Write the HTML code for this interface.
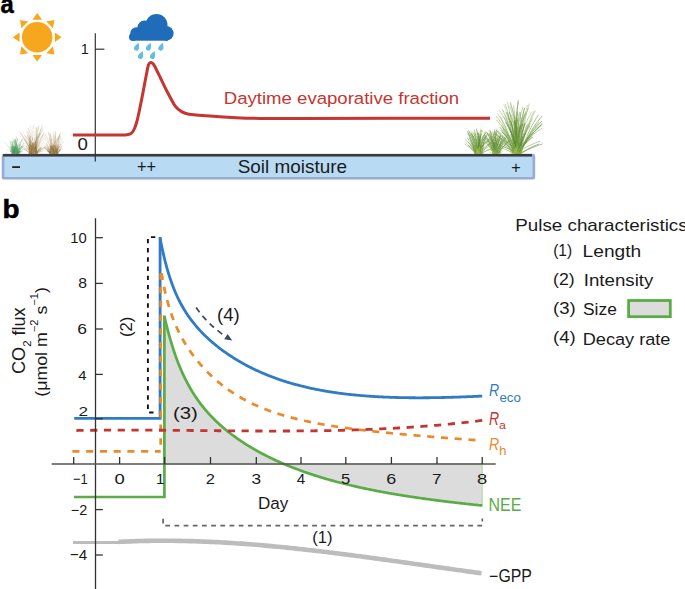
<!DOCTYPE html>
<html><head><meta charset="utf-8"><style>
html,body{margin:0;padding:0;background:#fff;}
body{width:685px;height:589px;overflow:hidden;}
svg{display:block;font-family:"Liberation Sans", sans-serif;}
</style></head><body>
<svg width="685" height="589" viewBox="0 0 685 589">
<text x="0.58" y="13.34" font-size="26.48" fill="#000" font-weight="bold" textLength="13.26" lengthAdjust="spacingAndGlyphs" stroke="#000" stroke-width="0.5">a</text>
<path d="M37.20,13.00 L42.00,19.70 L32.40,19.70 Z M54.38,20.12 L53.04,28.25 L46.25,21.46 Z M61.50,37.30 L54.80,42.10 L54.80,32.50 Z M54.38,54.48 L46.25,53.14 L53.04,46.35 Z M37.20,61.60 L32.40,54.90 L42.00,54.90 Z M20.02,54.48 L21.36,46.35 L28.15,53.14 Z M12.90,37.30 L19.60,32.50 L19.60,42.10 Z M20.02,20.12 L28.15,21.46 L21.36,28.25 Z" fill="#f6a71e"/>
<circle cx="37.20" cy="37.30" r="15.3" fill="#f6a71e"/>
<g fill="#1f6db8"><circle cx="133" cy="37" r="4"/><circle cx="136.5" cy="33.5" r="6.3"/><circle cx="144.5" cy="27.8" r="7.2"/><circle cx="156.5" cy="25" r="11"/><circle cx="166.3" cy="33.4" r="7.3"/><rect x="132" y="32" width="36" height="8.7"/></g>
<path d="M0,-5.9 C-0.9,-4.2 -2.5,-2 -2.5,0 A2.5,2.5 0 0 0 2.5,0 C2.5,-2 0.9,-4.2 0,-5.9 Z" fill="#62bde2" transform="translate(136.50,48.10) rotate(22)"/>
<path d="M0,-5.9 C-0.9,-4.2 -2.5,-2 -2.5,0 A2.5,2.5 0 0 0 2.5,0 C2.5,-2 0.9,-4.2 0,-5.9 Z" fill="#62bde2" transform="translate(148.40,48.10) rotate(22)"/>
<path d="M0,-5.9 C-0.9,-4.2 -2.5,-2 -2.5,0 A2.5,2.5 0 0 0 2.5,0 C2.5,-2 0.9,-4.2 0,-5.9 Z" fill="#62bde2" transform="translate(160.80,48.10) rotate(22)"/>
<path d="M0,-5.9 C-0.9,-4.2 -2.5,-2 -2.5,0 A2.5,2.5 0 0 0 2.5,0 C2.5,-2 0.9,-4.2 0,-5.9 Z" fill="#62bde2" transform="translate(140.50,56.50) rotate(22)"/>
<path d="M0,-5.9 C-0.9,-4.2 -2.5,-2 -2.5,0 A2.5,2.5 0 0 0 2.5,0 C2.5,-2 0.9,-4.2 0,-5.9 Z" fill="#62bde2" transform="translate(152.50,56.50) rotate(22)"/>
<rect x="3.05" y="155.15" width="530.8" height="23.1" rx="1" fill="#b8dbf3" stroke="#97abd6" stroke-width="2.7"/>
<line x1="3.1" y1="155.3" x2="532" y2="155.3" stroke="#3b3b3b" stroke-width="2.6"/>
<rect x="12.2" y="166.2" width="7.8" height="1.8" fill="#222"/>
<text x="136.92" y="172.99" font-size="18.16" fill="#1a1a1a" textLength="19.06" lengthAdjust="spacingAndGlyphs">++</text>
<text x="511.23" y="172.88" font-size="16.94" fill="#1a1a1a" textLength="9.46" lengthAdjust="spacingAndGlyphs">+</text>
<text x="237.65" y="173.00" font-size="17.93" fill="#1a1a1a" textLength="109.35" lengthAdjust="spacingAndGlyphs">Soil moisture</text>
<line x1="95.3" y1="33.3" x2="95.3" y2="161.6" stroke="#333333" stroke-width="1.2"/>
<line x1="95.3" y1="49.2" x2="104.4" y2="49.2" stroke="#333333" stroke-width="1.2"/>
<text x="80.71" y="53.90" font-size="14.55" fill="#1a1a1a">1</text>
<text x="77.45" y="150.10" font-size="15.77" fill="#1a1a1a" textLength="10.37" lengthAdjust="spacingAndGlyphs">0</text>
<path d="M72.90,135.00 C77.61,135.00 114.59,135.02 120.00,135.00 C125.41,134.98 125.85,134.98 127.00,134.80 C128.15,134.62 130.75,133.83 131.50,133.20 C132.25,132.57 133.95,129.72 134.50,128.50 C135.05,127.28 136.50,122.85 137.00,121.00 C137.50,119.15 138.95,112.60 139.50,110.00 C140.05,107.40 141.82,98.50 142.50,95.00 C143.18,91.50 145.71,78.00 146.30,75.00 C146.89,72.00 147.99,66.24 148.40,65.00 C148.81,63.76 149.98,62.77 150.40,62.60 C150.82,62.43 152.17,62.94 152.60,63.30 C153.03,63.66 153.91,64.73 154.70,66.20 C155.49,67.67 159.34,75.62 160.50,78.00 C161.66,80.38 164.85,87.22 166.30,90.00 C167.75,92.78 173.43,103.61 175.00,105.80 C176.57,107.99 180.60,111.06 182.00,111.90 C183.40,112.74 186.20,113.79 189.00,114.20 C191.80,114.61 205.26,115.65 210.00,116.00 C214.74,116.35 231.40,117.46 236.40,117.70 C241.40,117.94 253.64,118.33 260.00,118.40 C266.36,118.47 277.00,118.41 300.00,118.40 C323.00,118.39 471.00,118.31 490.00,118.30" fill="none" stroke="#c4362f" stroke-width="3" stroke-linejoin="round"/>
<text x="223.77" y="104.40" font-size="17.10" fill="#c4362f" textLength="235.40" lengthAdjust="spacingAndGlyphs">Daytime evaporative fraction</text>
<g fill="none" stroke-width="0.6" stroke-linecap="round" stroke-dasharray="1.6 0.7"><path d="M15.1,153.5 Q12.0,151.6 7.3,150.0" stroke="#5aa468" stroke-opacity="0.22"/><path d="M15.6,153.5 Q13.5,147.6 9.8,142.8" stroke="#5aa468" stroke-opacity="0.19"/><path d="M13.9,153.5 Q17.3,149.3 22.5,145.9" stroke="#3d8c48" stroke-opacity="0.39"/><path d="M14.7,153.5 Q16.7,148.6 20.1,144.5" stroke="#5aa468" stroke-opacity="0.40"/><path d="M18.2,153.5 Q19.3,145.6 22.3,139.2" stroke="#3d8c48" stroke-opacity="0.46"/><path d="M14.1,153.5 Q14.7,146.1 14.0,140.0" stroke="#5aa468" stroke-opacity="0.36"/><path d="M16.6,153.5 Q13.8,149.9 9.5,146.9" stroke="#2f7a3a" stroke-opacity="0.31"/><path d="M15.9,153.5 Q15.3,144.5 16.3,137.1" stroke="#3d8c48" stroke-opacity="0.43"/><path d="M14.0,153.5 Q14.3,149.7 13.9,146.7" stroke="#3d8c48" stroke-opacity="0.31"/><path d="M18.3,153.5 Q20.4,149.2 24.0,145.7" stroke="#3d8c48" stroke-opacity="0.49"/><path d="M11.5,153.5 Q11.7,147.0 13.1,141.6" stroke="#7ab985" stroke-opacity="0.32"/><path d="M16.0,153.5 Q18.4,152.1 21.8,150.9" stroke="#2f7a3a" stroke-opacity="0.28"/><path d="M14.0,153.5 Q16.6,146.8 21.3,141.3" stroke="#5aa468" stroke-opacity="0.25"/><path d="M12.3,153.5 Q12.3,150.0 11.7,147.1" stroke="#7ab985" stroke-opacity="0.22"/><path d="M16.0,153.5 Q14.5,146.5 11.4,140.8" stroke="#5aa468" stroke-opacity="0.32"/><path d="M14.6,153.5 Q14.5,147.3 15.5,142.2" stroke="#5aa468" stroke-opacity="0.15"/><path d="M18.4,153.5 Q20.6,151.3 24.0,149.4" stroke="#3d8c48" stroke-opacity="0.23"/><path d="M14.7,153.5 Q14.2,145.3 12.1,138.5" stroke="#3d8c48" stroke-opacity="0.17"/><path d="M12.7,153.5 Q12.0,146.5 9.8,140.8" stroke="#2f7a3a" stroke-opacity="0.30"/><path d="M12.1,153.5 Q11.9,148.6 10.8,144.7" stroke="#5aa468" stroke-opacity="0.16"/><path d="M14.4,153.5 Q13.5,146.8 11.0,141.4" stroke="#5aa468" stroke-opacity="0.50"/><path d="M13.0,153.5 Q12.1,149.5 10.4,146.3" stroke="#5aa468" stroke-opacity="0.48"/><path d="M13.5,153.5 Q14.6,145.3 17.5,138.6" stroke="#5aa468" stroke-opacity="0.42"/><path d="M14.6,153.5 Q17.5,150.0 22.1,147.2" stroke="#3d8c48" stroke-opacity="0.32"/><path d="M12.3,153.5 Q14.8,152.0 18.5,150.7" stroke="#7ab985" stroke-opacity="0.25"/><path d="M18.1,153.5 Q20.1,147.8 23.8,143.1" stroke="#2f7a3a" stroke-opacity="0.36"/><path d="M18.9,153.5 Q20.7,148.2 24.0,143.8" stroke="#3d8c48" stroke-opacity="0.26"/><path d="M18.8,153.5 Q18.9,148.7 19.9,144.7" stroke="#3d8c48" stroke-opacity="0.18"/><path d="M14.8,153.5 Q15.1,147.9 14.4,143.4" stroke="#5aa468" stroke-opacity="0.19"/><path d="M12.6,153.5 Q12.3,146.9 13.1,141.5" stroke="#2f7a3a" stroke-opacity="0.41"/><path d="M17.0,153.5 Q16.8,150.5 15.9,148.0" stroke="#3d8c48" stroke-opacity="0.34"/><path d="M14.4,153.5 Q13.8,148.1 12.1,143.8" stroke="#3d8c48" stroke-opacity="0.16"/><path d="M16.6,153.5 Q14.0,150.7 10.1,148.4" stroke="#3d8c48" stroke-opacity="0.18"/><path d="M15.9,153.5 Q16.0,145.6 17.7,139.2" stroke="#5aa468" stroke-opacity="0.47"/><path d="M18.8,153.5 Q17.0,146.0 13.4,139.9" stroke="#7ab985" stroke-opacity="0.53"/><path d="M11.7,153.5 Q13.8,148.4 17.4,144.1" stroke="#3d8c48" stroke-opacity="0.40"/><path d="M14.6,153.5 Q13.0,151.2 10.6,149.4" stroke="#3d8c48" stroke-opacity="0.55"/><path d="M18.5,153.5 Q17.6,146.1 15.0,140.1" stroke="#7ab985" stroke-opacity="0.52"/><path d="M17.1,153.5 Q14.8,148.3 11.0,144.0" stroke="#3d8c48" stroke-opacity="0.27"/><path d="M12.2,153.5 Q12.0,150.5 12.3,148.0" stroke="#3d8c48" stroke-opacity="0.35"/><path d="M16.4,153.5 Q17.1,151.3 18.4,149.4" stroke="#2f7a3a" stroke-opacity="0.21"/><path d="M16.4,153.5 Q16.0,146.9 14.2,141.4" stroke="#2f7a3a" stroke-opacity="0.41"/><path d="M15.0,153.5 Q16.7,147.0 19.9,141.6" stroke="#5aa468" stroke-opacity="0.40"/><path d="M17.9,153.5 Q17.2,145.9 14.9,139.6" stroke="#5aa468" stroke-opacity="0.50"/><path d="M14.6,153.5 Q13.4,150.1 11.2,147.3" stroke="#7ab985" stroke-opacity="0.29"/><path d="M18.7,153.5 Q18.7,150.2 18.1,147.6" stroke="#3d8c48" stroke-opacity="0.53"/><path d="M13.7,153.5 Q14.3,148.4 15.9,144.2" stroke="#5aa468" stroke-opacity="0.48"/><path d="M14.6,153.5 Q16.6,148.2 20.2,143.8" stroke="#2f7a3a" stroke-opacity="0.44"/><path d="M18.2,153.5 Q17.3,145.6 14.8,139.2" stroke="#2f7a3a" stroke-opacity="0.50"/><path d="M11.8,153.5 Q9.4,147.6 5.2,142.8" stroke="#2f7a3a" stroke-opacity="0.27"/><path d="M17.5,153.5 Q18.3,150.7 19.8,148.5" stroke="#3d8c48" stroke-opacity="0.68"/><path d="M13.9,153.5 Q14.1,149.5 13.6,146.3" stroke="#3d8c48" stroke-opacity="0.79"/><path d="M12.8,153.5 Q13.7,150.5 15.4,148.0" stroke="#2f7a3a" stroke-opacity="0.78"/><path d="M16.8,153.5 Q17.6,151.4 19.0,149.8" stroke="#7ab985" stroke-opacity="0.43"/><path d="M17.0,153.5 Q17.0,151.4 17.4,149.8" stroke="#5aa468" stroke-opacity="0.44"/><path d="M14.4,153.5 Q12.9,151.3 10.4,149.5" stroke="#5aa468" stroke-opacity="0.50"/><path d="M17.5,153.5 Q18.2,149.7 19.8,146.7" stroke="#7ab985" stroke-opacity="0.36"/><path d="M15.2,153.5 Q15.0,149.9 14.1,147.0" stroke="#3d8c48" stroke-opacity="0.49"/><path d="M16.0,153.5 Q17.7,151.1 20.5,149.1" stroke="#7ab985" stroke-opacity="0.46"/><path d="M18.9,153.5 Q18.1,151.7 16.8,150.3" stroke="#3d8c48" stroke-opacity="0.41"/><path d="M18.3,153.5 Q20.0,152.5 22.5,151.6" stroke="#2f7a3a" stroke-opacity="0.43"/><path d="M17.0,153.5 Q17.0,151.6 16.6,150.0" stroke="#3d8c48" stroke-opacity="0.32"/><path d="M14.4,153.5 Q13.3,150.2 11.2,147.4" stroke="#5aa468" stroke-opacity="0.70"/><path d="M12.4,153.5 Q12.4,149.5 13.0,146.3" stroke="#5aa468" stroke-opacity="0.57"/><path d="M16.8,153.5 Q18.3,150.6 20.9,148.2" stroke="#7ab985" stroke-opacity="0.77"/><path d="M15.4,153.5 Q14.7,149.8 13.0,146.7" stroke="#3d8c48" stroke-opacity="0.68"/><path d="M15.1,153.5 Q13.4,152.2 10.8,151.2" stroke="#5aa468" stroke-opacity="0.56"/><path d="M17.9,153.5 Q17.4,150.3 16.2,147.6" stroke="#2f7a3a" stroke-opacity="0.64"/><path d="M18.7,153.5 Q19.8,151.6 21.7,150.1" stroke="#5aa468" stroke-opacity="0.78"/><path d="M15.7,153.5 Q14.5,150.9 12.5,148.8" stroke="#5aa468" stroke-opacity="0.51"/><path d="M12.8,153.5 Q13.7,150.6 15.3,148.3" stroke="#3d8c48" stroke-opacity="0.56"/><path d="M14.8,153.5 Q15.1,149.4 14.7,146.1" stroke="#3d8c48" stroke-opacity="0.55"/><path d="M16.8,153.5 Q18.1,151.5 20.2,149.9" stroke="#7ab985" stroke-opacity="0.43"/><path d="M15.3,153.5 Q15.7,151.3 16.5,149.4" stroke="#7ab985" stroke-opacity="0.75"/><path d="M18.5,153.5 Q19.5,152.1 21.1,151.0" stroke="#7ab985" stroke-opacity="0.61"/><path d="M18.5,153.5 Q18.3,151.1 17.6,149.2" stroke="#3d8c48" stroke-opacity="0.32"/><path d="M13.1,153.5 Q13.8,150.2 15.4,147.4" stroke="#5aa468" stroke-opacity="0.61"/><path d="M12.7,153.5 Q12.7,149.7 12.0,146.5" stroke="#3d8c48" stroke-opacity="0.73"/><path d="M16.4,153.5 Q16.2,149.5 15.3,146.2" stroke="#3d8c48" stroke-opacity="0.49"/><path d="M14.9,153.5 Q13.3,151.9 10.9,150.6" stroke="#5aa468" stroke-opacity="0.57"/><path d="M18.0,153.5 Q17.7,151.0 16.7,148.9" stroke="#5aa468" stroke-opacity="0.42"/><path d="M17.2,153.5 Q17.5,149.4 17.1,146.1" stroke="#5aa468" stroke-opacity="0.46"/><path d="M14.2,153.5 Q14.9,149.6 16.4,146.5" stroke="#3d8c48" stroke-opacity="0.37"/><path d="M13.7,153.5 Q13.1,150.0 11.8,147.1" stroke="#2f7a3a" stroke-opacity="0.49"/><path d="M15.0,153.5 Q16.4,151.0 18.7,148.9" stroke="#5aa468" stroke-opacity="0.50"/><path d="M16.8,153.5 Q16.6,151.6 16.1,150.1" stroke="#5aa468" stroke-opacity="0.58"/><path d="M14.5,153.5 Q14.8,149.9 15.8,146.9" stroke="#2f7a3a" stroke-opacity="0.55"/><path d="M16.8,153.5 Q16.1,151.3 14.9,149.5" stroke="#3d8c48" stroke-opacity="0.54"/><path d="M12.2,153.5 Q12.2,149.4 11.4,146.0" stroke="#7ab985" stroke-opacity="0.37"/><path d="M13.3,153.5 Q12.1,152.2 10.2,151.2" stroke="#5aa468" stroke-opacity="0.80"/><path d="M18.5,153.5 Q19.2,149.7 20.8,146.7" stroke="#7ab985" stroke-opacity="0.34"/><path d="M12.7,153.5 Q12.9,150.3 12.6,147.6" stroke="#7ab985" stroke-opacity="0.56"/><path d="M15.0,153.5 Q15.0,149.7 14.3,146.6" stroke="#5aa468" stroke-opacity="0.39"/><path d="M15.2,153.5 Q15.3,149.6 14.7,146.4" stroke="#7ab985" stroke-opacity="0.76"/><path d="M16.2,153.5 Q17.6,152.0 19.7,150.9" stroke="#3d8c48" stroke-opacity="0.70"/><path d="M35.3,153.5 Q39.2,143.0 46.0,134.4" stroke="#b89a68" stroke-opacity="0.31"/><path d="M30.7,153.5 Q26.9,141.7 19.8,132.0" stroke="#6e5225" stroke-opacity="0.42"/><path d="M35.7,153.5 Q35.9,138.7 33.4,126.6" stroke="#b89a68" stroke-opacity="0.16"/><path d="M32.0,153.5 Q29.0,144.3 23.5,136.8" stroke="#a3824a" stroke-opacity="0.25"/><path d="M35.5,153.5 Q35.0,147.3 35.5,142.3" stroke="#6e5225" stroke-opacity="0.22"/><path d="M29.9,153.5 Q36.1,144.9 46.0,137.8" stroke="#8a6a30" stroke-opacity="0.20"/><path d="M37.5,153.5 Q32.8,143.9 24.8,136.0" stroke="#6e5225" stroke-opacity="0.19"/><path d="M32.7,153.5 Q31.9,141.0 33.3,130.8" stroke="#b89a68" stroke-opacity="0.33"/><path d="M35.3,153.5 Q36.9,139.8 41.5,128.6" stroke="#8a6a30" stroke-opacity="0.16"/><path d="M30.0,153.5 Q29.6,141.6 26.9,131.8" stroke="#a3824a" stroke-opacity="0.33"/><path d="M29.1,153.5 Q30.1,144.8 32.8,137.7" stroke="#6e5225" stroke-opacity="0.42"/><path d="M34.0,153.5 Q28.0,149.0 19.0,145.4" stroke="#8a6a30" stroke-opacity="0.33"/><path d="M36.3,153.5 Q36.2,147.3 37.2,142.3" stroke="#8a6a30" stroke-opacity="0.25"/><path d="M37.4,153.5 Q32.0,142.8 23.0,134.1" stroke="#8a6a30" stroke-opacity="0.26"/><path d="M33.5,153.5 Q37.2,147.5 43.2,142.6" stroke="#b89a68" stroke-opacity="0.32"/><path d="M32.3,153.5 Q31.3,141.3 27.9,131.4" stroke="#6e5225" stroke-opacity="0.34"/><path d="M35.7,153.5 Q37.6,150.4 40.6,147.9" stroke="#a3824a" stroke-opacity="0.31"/><path d="M34.7,153.5 Q33.2,149.0 30.5,145.3" stroke="#6e5225" stroke-opacity="0.37"/><path d="M29.5,153.5 Q30.0,137.3 33.7,124.1" stroke="#6e5225" stroke-opacity="0.14"/><path d="M37.1,153.5 Q35.2,138.2 30.1,125.7" stroke="#a3824a" stroke-opacity="0.13"/><path d="M29.9,153.5 Q28.9,138.2 30.6,125.6" stroke="#b89a68" stroke-opacity="0.17"/><path d="M37.6,153.5 Q38.2,148.3 39.8,144.0" stroke="#b89a68" stroke-opacity="0.27"/><path d="M30.8,153.5 Q32.5,149.2 35.4,145.7" stroke="#a3824a" stroke-opacity="0.16"/><path d="M33.0,153.5 Q31.9,144.9 28.9,137.8" stroke="#b89a68" stroke-opacity="0.24"/><path d="M35.7,153.5 Q33.5,139.8 28.2,128.5" stroke="#a3824a" stroke-opacity="0.43"/><path d="M35.6,153.5 Q35.9,137.9 39.0,125.2" stroke="#6e5225" stroke-opacity="0.21"/><path d="M34.5,153.5 Q36.2,140.2 40.8,129.4" stroke="#a3824a" stroke-opacity="0.33"/><path d="M35.8,153.5 Q37.5,138.0 42.4,125.3" stroke="#a3824a" stroke-opacity="0.41"/><path d="M29.4,153.5 Q29.3,147.7 30.3,143.0" stroke="#6e5225" stroke-opacity="0.21"/><path d="M29.2,153.5 Q29.1,144.0 30.6,136.2" stroke="#8a6a30" stroke-opacity="0.42"/><path d="M30.4,153.5 Q30.6,144.6 29.1,137.3" stroke="#6e5225" stroke-opacity="0.28"/><path d="M32.2,153.5 Q31.0,147.0 28.2,141.6" stroke="#8a6a30" stroke-opacity="0.38"/><path d="M33.0,153.5 Q36.3,140.6 42.8,130.0" stroke="#a3824a" stroke-opacity="0.27"/><path d="M35.7,153.5 Q35.9,145.8 34.7,139.5" stroke="#6e5225" stroke-opacity="0.22"/><path d="M35.8,153.5 Q37.8,139.5 42.9,128.0" stroke="#a3824a" stroke-opacity="0.26"/><path d="M32.3,153.5 Q34.5,149.2 38.2,145.7" stroke="#8a6a30" stroke-opacity="0.26"/><path d="M34.1,153.5 Q38.4,142.1 46.0,132.8" stroke="#b89a68" stroke-opacity="0.22"/><path d="M36.0,153.5 Q38.8,141.7 44.6,132.0" stroke="#8a6a30" stroke-opacity="0.35"/><path d="M33.5,153.5 Q33.8,139.1 36.9,127.3" stroke="#6e5225" stroke-opacity="0.21"/><path d="M30.3,153.5 Q26.9,145.8 21.0,139.4" stroke="#8a6a30" stroke-opacity="0.23"/><path d="M33.0,153.5 Q36.6,143.2 43.2,134.8" stroke="#6e5225" stroke-opacity="0.26"/><path d="M36.2,153.5 Q35.4,142.3 36.5,133.1" stroke="#a3824a" stroke-opacity="0.15"/><path d="M36.5,153.5 Q37.8,149.7 40.1,146.7" stroke="#b89a68" stroke-opacity="0.31"/><path d="M36.2,153.5 Q36.2,142.7 38.2,133.8" stroke="#a3824a" stroke-opacity="0.40"/><path d="M34.1,153.5 Q32.4,146.6 29.1,140.9" stroke="#b89a68" stroke-opacity="0.41"/><path d="M31.5,153.5 Q34.3,142.8 39.8,134.1" stroke="#6e5225" stroke-opacity="0.44"/><path d="M34.9,153.5 Q35.3,138.8 38.6,126.8" stroke="#8a6a30" stroke-opacity="0.31"/><path d="M31.7,153.5 Q29.4,145.8 24.9,139.5" stroke="#8a6a30" stroke-opacity="0.42"/><path d="M29.8,153.5 Q27.8,141.3 23.0,131.3" stroke="#a3824a" stroke-opacity="0.15"/><path d="M36.3,153.5 Q33.4,143.6 27.8,135.5" stroke="#6e5225" stroke-opacity="0.37"/><path d="M32.5,153.5 Q33.8,144.0 37.2,136.3" stroke="#6e5225" stroke-opacity="0.34"/><path d="M33.4,153.5 Q28.4,143.9 20.0,136.0" stroke="#8a6a30" stroke-opacity="0.26"/><path d="M36.4,153.5 Q37.5,139.4 36.2,127.9" stroke="#8a6a30" stroke-opacity="0.39"/><path d="M36.5,153.5 Q40.3,149.8 46.0,146.8" stroke="#6e5225" stroke-opacity="0.35"/><path d="M36.2,153.5 Q32.8,145.0 26.8,138.0" stroke="#b89a68" stroke-opacity="0.42"/><path d="M31.2,153.5 Q31.9,148.3 33.7,144.0" stroke="#6e5225" stroke-opacity="0.34"/><path d="M32.8,153.5 Q34.2,150.2 36.6,147.6" stroke="#8a6a30" stroke-opacity="0.46"/><path d="M35.6,153.5 Q35.1,147.1 35.7,141.9" stroke="#8a6a30" stroke-opacity="0.59"/><path d="M29.2,153.5 Q29.0,148.4 29.7,144.2" stroke="#8a6a30" stroke-opacity="0.39"/><path d="M30.8,153.5 Q29.1,149.4 26.2,146.1" stroke="#b89a68" stroke-opacity="0.52"/><path d="M31.0,153.5 Q31.9,150.1 33.6,147.3" stroke="#6e5225" stroke-opacity="0.43"/><path d="M37.2,153.5 Q39.9,150.1 44.1,147.2" stroke="#b89a68" stroke-opacity="0.63"/><path d="M33.4,153.5 Q32.7,149.1 31.1,145.5" stroke="#6e5225" stroke-opacity="0.55"/><path d="M35.9,153.5 Q38.1,151.3 41.5,149.6" stroke="#a3824a" stroke-opacity="0.68"/><path d="M36.2,153.5 Q38.0,150.4 40.8,147.8" stroke="#6e5225" stroke-opacity="0.60"/><path d="M29.5,153.5 Q31.9,149.7 35.8,146.6" stroke="#6e5225" stroke-opacity="0.45"/><path d="M31.2,153.5 Q29.6,150.0 26.9,147.1" stroke="#a3824a" stroke-opacity="0.44"/><path d="M35.9,153.5 Q38.4,150.1 42.3,147.2" stroke="#a3824a" stroke-opacity="0.54"/><path d="M37.9,153.5 Q40.0,152.0 43.1,150.8" stroke="#8a6a30" stroke-opacity="0.32"/><path d="M35.9,153.5 Q38.8,151.2 43.2,149.3" stroke="#a3824a" stroke-opacity="0.29"/><path d="M31.4,153.5 Q31.5,147.8 30.4,143.1" stroke="#8a6a30" stroke-opacity="0.65"/><path d="M35.2,153.5 Q37.4,150.5 40.9,148.1" stroke="#6e5225" stroke-opacity="0.26"/><path d="M30.7,153.5 Q31.2,149.8 32.6,146.8" stroke="#8a6a30" stroke-opacity="0.60"/><path d="M33.0,153.5 Q34.3,149.4 36.8,146.0" stroke="#6e5225" stroke-opacity="0.39"/><path d="M32.6,153.5 Q32.5,148.2 33.4,143.9" stroke="#b89a68" stroke-opacity="0.55"/><path d="M29.6,153.5 Q29.4,147.8 30.1,143.2" stroke="#b89a68" stroke-opacity="0.59"/><path d="M36.1,153.5 Q36.5,150.1 37.7,147.3" stroke="#b89a68" stroke-opacity="0.26"/><path d="M32.4,153.5 Q32.2,148.3 31.0,144.1" stroke="#b89a68" stroke-opacity="0.60"/><path d="M36.7,153.5 Q36.2,147.7 34.6,143.0" stroke="#a3824a" stroke-opacity="0.66"/><path d="M30.4,153.5 Q27.7,151.0 23.6,148.9" stroke="#6e5225" stroke-opacity="0.59"/><path d="M34.0,153.5 Q32.5,151.6 30.2,150.0" stroke="#a3824a" stroke-opacity="0.34"/><path d="M35.6,153.5 Q34.2,149.2 31.6,145.7" stroke="#6e5225" stroke-opacity="0.45"/><path d="M32.4,153.5 Q34.1,152.0 36.6,150.8" stroke="#8a6a30" stroke-opacity="0.31"/><path d="M34.7,153.5 Q34.9,150.5 35.8,148.1" stroke="#b89a68" stroke-opacity="0.52"/><path d="M29.8,153.5 Q29.8,149.4 30.6,146.0" stroke="#a3824a" stroke-opacity="0.69"/><path d="M32.9,153.5 Q32.6,147.4 33.2,142.4" stroke="#a3824a" stroke-opacity="0.54"/><path d="M35.9,153.5 Q34.9,148.2 32.5,143.8" stroke="#b89a68" stroke-opacity="0.47"/><path d="M37.3,153.5 Q36.1,148.8 33.8,145.0" stroke="#6e5225" stroke-opacity="0.69"/><path d="M36.1,153.5 Q34.8,148.9 32.2,145.1" stroke="#8a6a30" stroke-opacity="0.37"/><path d="M30.7,153.5 Q29.8,148.8 27.8,144.9" stroke="#a3824a" stroke-opacity="0.48"/><path d="M36.1,153.5 Q38.2,149.3 41.7,145.9" stroke="#a3824a" stroke-opacity="0.36"/><path d="M33.8,153.5 Q33.9,148.1 32.9,143.6" stroke="#a3824a" stroke-opacity="0.51"/><path d="M30.8,153.5 Q31.3,147.5 33.1,142.7" stroke="#a3824a" stroke-opacity="0.51"/><path d="M29.2,153.5 Q27.9,151.0 25.6,149.0" stroke="#b89a68" stroke-opacity="0.51"/><path d="M35.3,153.5 Q33.7,150.4 31.0,147.8" stroke="#6e5225" stroke-opacity="0.37"/><path d="M36.9,153.5 Q35.6,150.5 33.2,148.0" stroke="#8a6a30" stroke-opacity="0.50"/><path d="M31.4,153.5 Q31.5,147.4 32.9,142.4" stroke="#6e5225" stroke-opacity="0.52"/><path d="M30.1,153.5 Q29.7,147.2 30.3,142.0" stroke="#a3824a" stroke-opacity="0.59"/><path d="M32.3,153.5 Q31.3,150.3 29.6,147.6" stroke="#8a6a30" stroke-opacity="0.45"/><path d="M32.6,153.5 Q33.1,147.3 34.8,142.3" stroke="#a3824a" stroke-opacity="0.39"/><path d="M35.0,153.5 Q32.3,151.3 28.1,149.5" stroke="#b89a68" stroke-opacity="0.53"/><path d="M34.8,153.5 Q34.7,148.7 35.5,144.7" stroke="#8a6a30" stroke-opacity="0.31"/><path d="M32.5,153.5 Q31.5,148.8 29.4,144.9" stroke="#a3824a" stroke-opacity="0.40"/><path d="M30.2,153.5 Q30.1,150.3 29.5,147.7" stroke="#8a6a30" stroke-opacity="0.57"/><path d="M36.1,153.5 Q38.4,152.1 41.8,150.9" stroke="#b89a68" stroke-opacity="0.52"/><path d="M53.7,153.5 Q50.6,145.7 45.0,139.3" stroke="#b89a68" stroke-opacity="0.37"/><path d="M53.9,153.5 Q56.0,142.5 60.6,133.5" stroke="#b89a68" stroke-opacity="0.39"/><path d="M50.6,153.5 Q53.2,148.2 57.5,143.9" stroke="#b89a68" stroke-opacity="0.26"/><path d="M49.7,153.5 Q52.9,144.1 58.8,136.5" stroke="#6e5225" stroke-opacity="0.36"/><path d="M57.6,153.5 Q57.7,142.8 59.8,134.1" stroke="#6e5225" stroke-opacity="0.41"/><path d="M57.4,153.5 Q55.8,147.9 52.7,143.4" stroke="#b89a68" stroke-opacity="0.20"/><path d="M57.4,153.5 Q59.2,150.1 62.2,147.4" stroke="#a3824a" stroke-opacity="0.30"/><path d="M55.4,153.5 Q56.2,141.3 55.0,131.3" stroke="#8a6a30" stroke-opacity="0.45"/><path d="M56.1,153.5 Q58.1,145.6 62.2,139.1" stroke="#a3824a" stroke-opacity="0.19"/><path d="M56.2,153.5 Q55.5,144.4 52.9,137.0" stroke="#8a6a30" stroke-opacity="0.15"/><path d="M56.6,153.5 Q59.3,146.6 64.0,140.9" stroke="#8a6a30" stroke-opacity="0.22"/><path d="M56.1,153.5 Q57.0,150.7 58.8,148.4" stroke="#a3824a" stroke-opacity="0.14"/><path d="M57.6,153.5 Q59.0,146.7 62.2,141.1" stroke="#a3824a" stroke-opacity="0.14"/><path d="M49.8,153.5 Q47.6,149.1 44.0,145.5" stroke="#6e5225" stroke-opacity="0.23"/><path d="M50.8,153.5 Q51.5,141.7 50.1,132.0" stroke="#a3824a" stroke-opacity="0.22"/><path d="M57.8,153.5 Q54.1,144.9 47.6,137.9" stroke="#a3824a" stroke-opacity="0.22"/><path d="M57.2,153.5 Q58.2,144.1 61.2,136.4" stroke="#a3824a" stroke-opacity="0.30"/><path d="M51.6,153.5 Q51.0,141.8 48.1,132.3" stroke="#8a6a30" stroke-opacity="0.33"/><path d="M52.3,153.5 Q53.7,147.5 56.7,142.6" stroke="#b89a68" stroke-opacity="0.36"/><path d="M50.7,153.5 Q48.0,151.8 44.0,150.5" stroke="#b89a68" stroke-opacity="0.26"/><path d="M51.0,153.5 Q51.9,142.9 51.0,134.2" stroke="#6e5225" stroke-opacity="0.18"/><path d="M51.6,153.5 Q50.1,144.2 46.5,136.6" stroke="#6e5225" stroke-opacity="0.24"/><path d="M55.5,153.5 Q57.4,148.4 60.7,144.3" stroke="#6e5225" stroke-opacity="0.42"/><path d="M51.1,153.5 Q49.2,148.6 45.7,144.5" stroke="#a3824a" stroke-opacity="0.33"/><path d="M50.3,153.5 Q51.7,145.2 55.0,138.3" stroke="#8a6a30" stroke-opacity="0.12"/><path d="M54.8,153.5 Q55.5,144.0 54.6,136.3" stroke="#b89a68" stroke-opacity="0.39"/><path d="M50.3,153.5 Q49.0,147.6 46.4,142.8" stroke="#6e5225" stroke-opacity="0.36"/><path d="M49.8,153.5 Q53.0,145.0 58.7,138.0" stroke="#a3824a" stroke-opacity="0.45"/><path d="M49.8,153.5 Q47.5,151.2 44.0,149.2" stroke="#b89a68" stroke-opacity="0.14"/><path d="M50.1,153.5 Q50.8,142.3 49.7,133.2" stroke="#6e5225" stroke-opacity="0.23"/><path d="M53.9,153.5 Q56.0,143.6 60.6,135.6" stroke="#a3824a" stroke-opacity="0.32"/><path d="M56.4,153.5 Q56.8,148.6 58.2,144.6" stroke="#b89a68" stroke-opacity="0.20"/><path d="M53.5,153.5 Q53.3,142.5 55.2,133.4" stroke="#a3824a" stroke-opacity="0.21"/><path d="M54.4,153.5 Q50.4,147.5 44.0,142.6" stroke="#b89a68" stroke-opacity="0.21"/><path d="M51.3,153.5 Q50.7,144.7 51.5,137.6" stroke="#a3824a" stroke-opacity="0.23"/><path d="M55.0,153.5 Q54.3,143.5 55.4,135.3" stroke="#b89a68" stroke-opacity="0.29"/><path d="M56.0,153.5 Q56.3,148.5 57.6,144.4" stroke="#a3824a" stroke-opacity="0.31"/><path d="M54.4,153.5 Q54.7,142.4 53.0,133.3" stroke="#a3824a" stroke-opacity="0.33"/><path d="M50.0,153.5 Q47.7,150.4 44.0,147.9" stroke="#6e5225" stroke-opacity="0.37"/><path d="M54.0,153.5 Q55.6,144.4 59.3,137.0" stroke="#a3824a" stroke-opacity="0.25"/><path d="M51.7,153.5 Q48.8,149.1 44.0,145.6" stroke="#b89a68" stroke-opacity="0.14"/><path d="M53.2,153.5 Q53.7,145.5 52.8,139.0" stroke="#a3824a" stroke-opacity="0.35"/><path d="M58.1,153.5 Q60.4,149.9 64.0,146.9" stroke="#a3824a" stroke-opacity="0.17"/><path d="M53.6,153.5 Q56.7,145.2 62.3,138.5" stroke="#8a6a30" stroke-opacity="0.12"/><path d="M53.2,153.5 Q52.2,144.7 49.3,137.4" stroke="#b89a68" stroke-opacity="0.26"/><path d="M50.2,153.5 Q49.8,149.9 48.7,147.0" stroke="#a3824a" stroke-opacity="0.22"/><path d="M50.6,153.5 Q50.6,148.8 51.6,145.0" stroke="#a3824a" stroke-opacity="0.24"/><path d="M52.5,153.5 Q49.6,143.6 44.0,135.5" stroke="#a3824a" stroke-opacity="0.13"/><path d="M53.1,153.5 Q52.9,146.0 51.3,139.8" stroke="#a3824a" stroke-opacity="0.27"/><path d="M53.0,153.5 Q52.4,142.5 49.5,133.5" stroke="#b89a68" stroke-opacity="0.24"/><path d="M49.9,153.5 Q48.5,149.7 45.9,146.6" stroke="#a3824a" stroke-opacity="0.47"/><path d="M53.1,153.5 Q53.2,149.1 54.2,145.5" stroke="#6e5225" stroke-opacity="0.46"/><path d="M53.9,153.5 Q53.5,149.5 52.2,146.2" stroke="#b89a68" stroke-opacity="0.44"/><path d="M49.9,153.5 Q49.1,150.5 47.4,148.0" stroke="#6e5225" stroke-opacity="0.53"/><path d="M54.2,153.5 Q54.5,149.0 54.0,145.3" stroke="#a3824a" stroke-opacity="0.37"/><path d="M52.7,153.5 Q51.6,151.3 49.7,149.6" stroke="#6e5225" stroke-opacity="0.31"/><path d="M51.7,153.5 Q51.3,148.0 51.8,143.6" stroke="#b89a68" stroke-opacity="0.45"/><path d="M57.2,153.5 Q57.3,149.5 56.8,146.2" stroke="#6e5225" stroke-opacity="0.60"/><path d="M54.2,153.5 Q55.1,150.7 56.8,148.4" stroke="#8a6a30" stroke-opacity="0.33"/><path d="M54.1,153.5 Q54.3,150.5 55.1,148.1" stroke="#a3824a" stroke-opacity="0.39"/><path d="M53.3,153.5 Q52.6,149.2 50.9,145.6" stroke="#6e5225" stroke-opacity="0.39"/><path d="M53.6,153.5 Q53.6,149.6 52.9,146.4" stroke="#a3824a" stroke-opacity="0.63"/><path d="M54.3,153.5 Q53.8,149.5 52.5,146.2" stroke="#6e5225" stroke-opacity="0.35"/><path d="M52.1,153.5 Q52.4,149.6 52.1,146.3" stroke="#a3824a" stroke-opacity="0.31"/><path d="M57.1,153.5 Q57.2,151.2 57.8,149.3" stroke="#6e5225" stroke-opacity="0.55"/><path d="M50.1,153.5 Q48.1,150.5 44.8,148.0" stroke="#6e5225" stroke-opacity="0.55"/><path d="M58.1,153.5 Q59.2,149.7 61.4,146.7" stroke="#8a6a30" stroke-opacity="0.61"/><path d="M50.6,153.5 Q49.5,150.0 47.6,147.1" stroke="#b89a68" stroke-opacity="0.42"/><path d="M52.5,153.5 Q51.6,150.9 50.0,148.8" stroke="#b89a68" stroke-opacity="0.34"/><path d="M56.4,153.5 Q56.5,149.7 57.3,146.6" stroke="#a3824a" stroke-opacity="0.48"/><path d="M56.2,153.5 Q58.0,151.3 60.9,149.5" stroke="#6e5225" stroke-opacity="0.57"/><path d="M54.5,153.5 Q53.2,149.7 50.9,146.6" stroke="#8a6a30" stroke-opacity="0.66"/><path d="M50.6,153.5 Q52.0,151.3 54.3,149.5" stroke="#b89a68" stroke-opacity="0.47"/><path d="M54.8,153.5 Q53.5,150.4 51.2,147.8" stroke="#6e5225" stroke-opacity="0.65"/><path d="M50.2,153.5 Q50.6,149.8 51.8,146.8" stroke="#6e5225" stroke-opacity="0.37"/><path d="M55.5,153.5 Q55.7,150.3 56.5,147.7" stroke="#b89a68" stroke-opacity="0.42"/><path d="M52.6,153.5 Q52.3,148.7 52.8,144.7" stroke="#a3824a" stroke-opacity="0.60"/><path d="M55.1,153.5 Q55.5,148.8 55.0,145.0" stroke="#b89a68" stroke-opacity="0.53"/><path d="M50.1,153.5 Q50.7,149.8 52.3,146.7" stroke="#b89a68" stroke-opacity="0.27"/><path d="M50.7,153.5 Q50.6,149.2 51.3,145.7" stroke="#6e5225" stroke-opacity="0.47"/><path d="M53.8,153.5 Q55.1,151.1 57.2,149.1" stroke="#6e5225" stroke-opacity="0.56"/><path d="M51.6,153.5 Q51.7,151.3 51.5,149.4" stroke="#b89a68" stroke-opacity="0.25"/><path d="M54.4,153.5 Q55.2,151.3 56.7,149.5" stroke="#6e5225" stroke-opacity="0.37"/><path d="M50.4,153.5 Q49.4,152.2 47.7,151.2" stroke="#a3824a" stroke-opacity="0.56"/><path d="M55.7,153.5 Q57.2,152.1 59.5,151.0" stroke="#b89a68" stroke-opacity="0.61"/><path d="M52.1,153.5 Q51.5,149.8 50.1,146.8" stroke="#6e5225" stroke-opacity="0.59"/><path d="M54.3,153.5 Q54.1,149.7 54.6,146.5" stroke="#a3824a" stroke-opacity="0.66"/><path d="M56.1,153.5 Q57.5,149.4 60.0,146.1" stroke="#8a6a30" stroke-opacity="0.62"/><path d="M57.5,153.5 Q57.2,149.4 56.1,146.0" stroke="#b89a68" stroke-opacity="0.27"/><path d="M55.1,153.5 Q56.9,151.7 59.8,150.2" stroke="#b89a68" stroke-opacity="0.27"/><path d="M51.8,153.5 Q49.9,151.9 47.1,150.5" stroke="#6e5225" stroke-opacity="0.42"/><path d="M55.6,153.5 Q55.5,150.1 55.9,147.4" stroke="#a3824a" stroke-opacity="0.63"/><path d="M57.0,153.5 Q56.1,149.3 54.3,145.8" stroke="#6e5225" stroke-opacity="0.61"/><path d="M50.6,153.5 Q49.8,150.1 48.1,147.3" stroke="#6e5225" stroke-opacity="0.35"/><path d="M51.2,153.5 Q52.7,149.4 55.4,146.1" stroke="#a3824a" stroke-opacity="0.37"/></g><g fill="none" stroke-width="0.75" stroke-linecap="round" stroke-dasharray="2.2 0.9"><path d="M51.9,153.5 Q52.1,149.9 51.6,147.0" stroke="#b89a68" stroke-opacity="0.42"/><path d="M55.6,153.5 Q56.3,148.6 58.1,144.5" stroke="#8a6a30" stroke-opacity="0.34"/><path d="M52.7,153.5 Q52.9,149.3 53.9,145.8" stroke="#8a6a30" stroke-opacity="0.43"/><path d="M57.6,153.5 Q58.8,151.3 60.8,149.5" stroke="#8a6a30" stroke-opacity="0.39"/><path d="M56.7,153.5 Q54.8,150.3 51.6,147.7" stroke="#6e5225" stroke-opacity="0.35"/><path d="M480.1,153.5 Q479.7,142.3 477.2,133.1" stroke="#5f8d35" stroke-opacity="0.65"/><path d="M480.6,153.5 Q481.6,147.0 483.9,141.7" stroke="#5f8d35" stroke-opacity="0.81"/><path d="M478.9,153.5 Q483.3,148.0 490.1,143.5" stroke="#5f8d35" stroke-opacity="0.53"/><path d="M475.1,153.5 Q471.2,148.4 465.0,144.1" stroke="#5f8d35" stroke-opacity="0.50"/><path d="M477.8,153.5 Q477.6,145.9 476.0,139.6" stroke="#6e9a3e" stroke-opacity="0.66"/><path d="M476.1,153.5 Q475.8,149.3 476.4,145.8" stroke="#6e9a3e" stroke-opacity="0.72"/><path d="M475.0,153.5 Q472.6,142.0 467.4,132.7" stroke="#86ad50" stroke-opacity="0.62"/><path d="M477.9,153.5 Q478.9,140.9 482.5,130.6" stroke="#86ad50" stroke-opacity="0.66"/><path d="M476.5,153.5 Q473.0,148.8 467.5,145.0" stroke="#5f8d35" stroke-opacity="0.87"/><path d="M481.1,153.5 Q477.2,141.9 470.2,132.4" stroke="#86ad50" stroke-opacity="0.66"/><path d="M481.6,153.5 Q485.4,151.1 491.0,149.0" stroke="#4f7d28" stroke-opacity="0.72"/><path d="M476.9,153.5 Q477.2,148.9 478.5,145.2" stroke="#6e9a3e" stroke-opacity="0.38"/><path d="M478.3,153.5 Q478.4,144.1 480.4,136.4" stroke="#6e9a3e" stroke-opacity="0.80"/><path d="M480.5,153.5 Q479.5,140.5 480.6,129.9" stroke="#86ad50" stroke-opacity="0.52"/><path d="M478.7,153.5 Q475.6,142.9 469.6,134.2" stroke="#86ad50" stroke-opacity="0.57"/><path d="M479.9,153.5 Q476.8,148.0 471.7,143.6" stroke="#4f7d28" stroke-opacity="0.36"/><path d="M476.0,153.5 Q472.9,145.0 467.4,138.1" stroke="#6e9a3e" stroke-opacity="0.80"/><path d="M477.6,153.5 Q481.8,145.5 488.9,138.9" stroke="#6e9a3e" stroke-opacity="0.52"/><path d="M475.5,153.5 Q472.8,147.2 468.2,142.0" stroke="#5f8d35" stroke-opacity="0.76"/><path d="M476.5,153.5 Q472.1,145.6 465.0,139.1" stroke="#6e9a3e" stroke-opacity="0.72"/><path d="M476.2,153.5 Q476.1,144.1 477.7,136.4" stroke="#86ad50" stroke-opacity="0.36"/><path d="M477.8,153.5 Q477.9,148.1 479.1,143.7" stroke="#4f7d28" stroke-opacity="0.53"/><path d="M478.8,153.5 Q481.2,141.4 486.5,131.5" stroke="#6e9a3e" stroke-opacity="0.39"/><path d="M479.1,153.5 Q479.5,142.0 477.8,132.5" stroke="#6e9a3e" stroke-opacity="0.59"/><path d="M481.7,153.5 Q483.6,142.2 487.9,132.9" stroke="#5f8d35" stroke-opacity="0.80"/><path d="M475.5,153.5 Q477.1,144.7 480.8,137.6" stroke="#6e9a3e" stroke-opacity="0.83"/><path d="M480.4,153.5 Q479.9,140.7 481.5,130.3" stroke="#86ad50" stroke-opacity="0.85"/><path d="M475.4,153.5 Q474.5,142.3 471.3,133.1" stroke="#6e9a3e" stroke-opacity="0.84"/><path d="M481.0,153.5 Q479.6,143.0 475.9,134.4" stroke="#4f7d28" stroke-opacity="0.42"/><path d="M480.2,153.5 Q478.0,142.2 473.2,132.9" stroke="#86ad50" stroke-opacity="0.72"/><path d="M477.9,153.5 Q476.1,143.0 471.9,134.4" stroke="#4f7d28" stroke-opacity="0.63"/><path d="M475.2,153.5 Q474.7,141.5 476.2,131.7" stroke="#86ad50" stroke-opacity="0.51"/><path d="M475.3,153.5 Q476.4,143.0 479.7,134.5" stroke="#6e9a3e" stroke-opacity="0.90"/><path d="M480.2,153.5 Q481.2,145.1 484.1,138.2" stroke="#86ad50" stroke-opacity="0.89"/><path d="M477.8,153.5 Q478.2,139.3 481.3,127.8" stroke="#86ad50" stroke-opacity="0.41"/><path d="M476.3,153.5 Q474.0,141.0 468.7,130.8" stroke="#5f8d35" stroke-opacity="0.81"/><path d="M480.6,153.5 Q477.9,151.8 473.8,150.4" stroke="#4f7d28" stroke-opacity="0.74"/><path d="M476.8,153.5 Q475.5,141.0 471.7,130.9" stroke="#86ad50" stroke-opacity="0.46"/><path d="M475.1,153.5 Q471.2,147.2 465.0,142.1" stroke="#5f8d35" stroke-opacity="0.39"/><path d="M478.9,153.5 Q480.7,141.6 485.1,131.8" stroke="#86ad50" stroke-opacity="0.83"/><path d="M475.5,153.5 Q473.0,141.5 467.6,131.7" stroke="#4f7d28" stroke-opacity="0.79"/><path d="M476.1,153.5 Q475.7,144.1 473.6,136.5" stroke="#4f7d28" stroke-opacity="0.53"/><path d="M481.5,153.5 Q484.0,146.7 488.6,141.1" stroke="#86ad50" stroke-opacity="0.45"/><path d="M477.7,153.5 Q477.2,140.3 474.2,129.6" stroke="#86ad50" stroke-opacity="0.85"/><path d="M475.5,153.5 Q476.1,142.0 478.9,132.6" stroke="#5f8d35" stroke-opacity="0.66"/><path d="M482.0,153.5 Q482.6,144.2 485.1,136.6" stroke="#6e9a3e" stroke-opacity="0.73"/><path d="M480.9,153.5 Q484.3,149.2 489.5,145.7" stroke="#5f8d35" stroke-opacity="0.45"/><path d="M475.9,153.5 Q473.2,143.0 467.8,134.4" stroke="#86ad50" stroke-opacity="0.37"/><path d="M476.9,153.5 Q476.8,141.8 474.4,132.3" stroke="#6e9a3e" stroke-opacity="0.46"/><path d="M482.0,153.5 Q485.4,147.2 491.0,142.0" stroke="#6e9a3e" stroke-opacity="0.83"/><path d="M480.4,153.5 Q480.9,145.3 483.0,138.5" stroke="#6e9a3e" stroke-opacity="0.80"/><path d="M477.9,153.5 Q478.2,143.3 480.6,135.0" stroke="#4f7d28" stroke-opacity="0.87"/><path d="M477.4,153.5 Q476.8,142.4 474.0,133.4" stroke="#6e9a3e" stroke-opacity="0.42"/><path d="M481.1,153.5 Q480.1,139.9 476.3,128.8" stroke="#4f7d28" stroke-opacity="0.72"/><path d="M478.2,153.5 Q481.2,143.0 487.1,134.3" stroke="#5f8d35" stroke-opacity="0.60"/><path d="M475.4,153.5 Q473.4,144.8 469.1,137.8" stroke="#6e9a3e" stroke-opacity="0.67"/><path d="M479.6,153.5 Q479.9,149.0 479.5,145.3" stroke="#5f8d35" stroke-opacity="0.36"/><path d="M477.6,153.5 Q481.9,145.8 488.9,139.6" stroke="#6e9a3e" stroke-opacity="0.56"/><path d="M476.9,153.5 Q482.0,145.5 490.1,138.9" stroke="#4f7d28" stroke-opacity="0.65"/><path d="M475.7,153.5 Q479.1,142.2 485.6,132.9" stroke="#4f7d28" stroke-opacity="0.78"/><path d="M493.1,153.5 Q495.5,143.7 500.4,135.6" stroke="#4f7d28" stroke-opacity="0.72"/><path d="M494.1,153.5 Q494.4,148.0 493.8,143.4" stroke="#5f8d35" stroke-opacity="0.61"/><path d="M495.2,153.5 Q492.6,142.0 487.1,132.6" stroke="#4f7d28" stroke-opacity="0.90"/><path d="M495.8,153.5 Q491.8,144.5 484.9,137.1" stroke="#4f7d28" stroke-opacity="0.90"/><path d="M493.5,153.5 Q489.6,145.7 483.2,139.3" stroke="#5f8d35" stroke-opacity="0.63"/><path d="M497.1,153.5 Q497.4,143.7 499.6,135.8" stroke="#5f8d35" stroke-opacity="0.63"/><path d="M493.7,153.5 Q493.1,140.7 489.9,130.2" stroke="#6e9a3e" stroke-opacity="0.71"/><path d="M499.8,153.5 Q500.3,144.0 502.6,136.2" stroke="#4f7d28" stroke-opacity="0.59"/><path d="M494.1,153.5 Q491.1,143.3 485.3,135.0" stroke="#4f7d28" stroke-opacity="0.41"/><path d="M495.9,153.5 Q497.3,143.9 500.8,136.0" stroke="#4f7d28" stroke-opacity="0.78"/><path d="M493.7,153.5 Q494.9,149.0 497.2,145.3" stroke="#5f8d35" stroke-opacity="0.42"/><path d="M493.6,153.5 Q493.0,143.8 490.5,135.8" stroke="#6e9a3e" stroke-opacity="0.54"/><path d="M494.7,153.5 Q490.8,143.3 483.8,134.9" stroke="#86ad50" stroke-opacity="0.44"/><path d="M493.7,153.5 Q492.2,148.2 489.2,143.9" stroke="#4f7d28" stroke-opacity="0.80"/><path d="M496.5,153.5 Q497.9,147.5 500.6,142.6" stroke="#4f7d28" stroke-opacity="0.58"/><path d="M493.1,153.5 Q493.8,147.3 495.9,142.3" stroke="#4f7d28" stroke-opacity="0.75"/><path d="M498.0,153.5 Q499.0,149.6 500.9,146.5" stroke="#4f7d28" stroke-opacity="0.62"/><path d="M499.4,153.5 Q503.0,146.3 509.0,140.5" stroke="#4f7d28" stroke-opacity="0.56"/><path d="M495.1,153.5 Q494.5,142.2 495.9,132.9" stroke="#86ad50" stroke-opacity="0.53"/><path d="M496.4,153.5 Q499.8,145.0 505.7,138.1" stroke="#5f8d35" stroke-opacity="0.66"/><path d="M496.5,153.5 Q498.2,146.4 501.6,140.5" stroke="#6e9a3e" stroke-opacity="0.47"/><path d="M493.6,153.5 Q490.7,143.4 485.2,135.2" stroke="#86ad50" stroke-opacity="0.55"/><path d="M496.0,153.5 Q495.4,141.5 492.4,131.7" stroke="#4f7d28" stroke-opacity="0.44"/><path d="M495.7,153.5 Q496.3,144.8 495.6,137.8" stroke="#5f8d35" stroke-opacity="0.72"/><path d="M498.0,153.5 Q501.7,143.2 508.3,134.8" stroke="#86ad50" stroke-opacity="0.75"/><path d="M495.6,153.5 Q495.0,142.6 496.3,133.7" stroke="#4f7d28" stroke-opacity="0.35"/><path d="M497.2,153.5 Q499.9,144.7 505.0,137.6" stroke="#6e9a3e" stroke-opacity="0.81"/><path d="M494.5,153.5 Q493.3,142.3 489.8,133.1" stroke="#4f7d28" stroke-opacity="0.52"/><path d="M496.5,153.5 Q494.5,150.4 491.2,147.9" stroke="#4f7d28" stroke-opacity="0.47"/><path d="M497.1,153.5 Q497.7,141.1 496.2,131.0" stroke="#86ad50" stroke-opacity="0.71"/><path d="M495.6,153.5 Q497.0,148.7 499.8,144.8" stroke="#86ad50" stroke-opacity="0.89"/><path d="M498.8,153.5 Q501.0,146.5 505.0,140.9" stroke="#6e9a3e" stroke-opacity="0.43"/><path d="M494.1,153.5 Q492.8,140.9 488.8,130.5" stroke="#86ad50" stroke-opacity="0.38"/><path d="M497.4,153.5 Q499.7,144.7 504.3,137.5" stroke="#6e9a3e" stroke-opacity="0.70"/><path d="M493.2,153.5 Q496.0,145.1 501.3,138.2" stroke="#4f7d28" stroke-opacity="0.80"/><path d="M496.4,153.5 Q495.0,145.8 491.9,139.5" stroke="#4f7d28" stroke-opacity="0.44"/><path d="M493.6,153.5 Q492.0,142.6 488.0,133.7" stroke="#86ad50" stroke-opacity="0.79"/><path d="M496.1,153.5 Q494.6,141.6 490.6,131.9" stroke="#4f7d28" stroke-opacity="0.81"/><path d="M499.7,153.5 Q497.7,143.2 493.2,134.8" stroke="#4f7d28" stroke-opacity="0.57"/><path d="M497.8,153.5 Q502.2,146.7 509.3,141.1" stroke="#4f7d28" stroke-opacity="0.86"/><path d="M494.5,153.5 Q490.4,144.6 483.4,137.3" stroke="#4f7d28" stroke-opacity="0.44"/><path d="M494.9,153.5 Q495.6,144.7 498.0,137.4" stroke="#86ad50" stroke-opacity="0.86"/><path d="M494.4,153.5 Q493.1,144.8 489.9,137.7" stroke="#86ad50" stroke-opacity="0.63"/><path d="M496.4,153.5 Q493.4,145.4 488.1,138.8" stroke="#5f8d35" stroke-opacity="0.78"/><path d="M495.3,153.5 Q499.7,146.8 506.8,141.3" stroke="#86ad50" stroke-opacity="0.68"/><path d="M496.6,153.5 Q496.5,144.4 498.1,137.0" stroke="#86ad50" stroke-opacity="0.55"/><path d="M497.1,153.5 Q493.0,151.0 487.0,149.0" stroke="#86ad50" stroke-opacity="0.48"/><path d="M494.8,153.5 Q494.4,141.7 496.0,132.0" stroke="#4f7d28" stroke-opacity="0.49"/><path d="M493.4,153.5 Q492.6,141.7 493.8,132.0" stroke="#86ad50" stroke-opacity="0.85"/><path d="M493.5,153.5 Q491.2,148.4 487.4,144.2" stroke="#86ad50" stroke-opacity="0.85"/><path d="M496.2,153.5 Q494.0,143.1 489.4,134.5" stroke="#4f7d28" stroke-opacity="0.72"/><path d="M496.5,153.5 Q496.1,146.8 496.8,141.3" stroke="#6e9a3e" stroke-opacity="0.66"/><path d="M496.9,153.5 Q496.8,140.5 494.3,129.8" stroke="#6e9a3e" stroke-opacity="0.79"/><path d="M493.7,153.5 Q493.2,141.3 494.9,131.4" stroke="#5f8d35" stroke-opacity="0.89"/><path d="M499.0,153.5 Q499.1,146.8 500.5,141.4" stroke="#5f8d35" stroke-opacity="0.67"/><path d="M520.2,153.5 Q517.6,127.0 509.4,105.3" stroke="#6e9a3e" stroke-opacity="0.60"/><path d="M520.6,153.5 Q521.5,126.9 527.6,105.1" stroke="#6e9a3e" stroke-opacity="0.46"/><path d="M515.9,153.5 Q512.1,140.4 504.9,129.7" stroke="#6e9a3e" stroke-opacity="0.77"/><path d="M515.3,153.5 Q512.2,142.7 506.3,133.8" stroke="#4f7d28" stroke-opacity="0.56"/><path d="M515.2,153.5 Q512.8,132.7 506.0,115.6" stroke="#86ad50" stroke-opacity="0.49"/><path d="M519.9,153.5 Q526.8,136.3 539.0,122.3" stroke="#5f8d35" stroke-opacity="0.69"/><path d="M518.3,153.5 Q512.0,129.9 499.6,110.6" stroke="#6e9a3e" stroke-opacity="0.57"/><path d="M516.4,153.5 Q516.2,130.8 520.0,112.2" stroke="#86ad50" stroke-opacity="0.65"/><path d="M516.0,153.5 Q508.4,140.6 496.0,130.0" stroke="#6e9a3e" stroke-opacity="0.71"/><path d="M515.8,153.5 Q515.2,139.3 517.1,127.6" stroke="#4f7d28" stroke-opacity="0.57"/><path d="M513.0,153.5 Q524.3,139.7 542.0,128.3" stroke="#4f7d28" stroke-opacity="0.51"/><path d="M515.9,153.5 Q513.4,126.6 505.3,104.6" stroke="#4f7d28" stroke-opacity="0.48"/><path d="M516.3,153.5 Q517.0,138.9 520.5,126.9" stroke="#4f7d28" stroke-opacity="0.64"/><path d="M518.4,153.5 Q527.2,137.8 541.6,124.9" stroke="#5f8d35" stroke-opacity="0.88"/><path d="M513.8,153.5 Q514.6,139.0 518.2,127.2" stroke="#5f8d35" stroke-opacity="0.44"/><path d="M516.9,153.5 Q508.5,148.1 496.0,143.8" stroke="#5f8d35" stroke-opacity="0.89"/><path d="M515.0,153.5 Q509.9,140.7 501.0,130.3" stroke="#6e9a3e" stroke-opacity="0.92"/><path d="M520.8,153.5 Q529.3,148.3 542.0,144.0" stroke="#4f7d28" stroke-opacity="0.73"/><path d="M519.4,153.5 Q517.6,125.6 510.4,102.7" stroke="#6e9a3e" stroke-opacity="0.91"/><path d="M513.7,153.5 Q508.3,150.2 500.3,147.5" stroke="#4f7d28" stroke-opacity="0.56"/><path d="M515.4,153.5 Q512.4,126.4 503.7,104.3" stroke="#86ad50" stroke-opacity="0.42"/><path d="M519.6,153.5 Q520.7,129.9 517.6,110.6" stroke="#4f7d28" stroke-opacity="0.40"/><path d="M513.5,153.5 Q506.9,142.3 496.0,133.2" stroke="#86ad50" stroke-opacity="0.86"/><path d="M516.3,153.5 Q515.0,143.9 511.7,136.1" stroke="#5f8d35" stroke-opacity="0.54"/><path d="M517.7,153.5 Q522.6,134.4 532.3,118.7" stroke="#6e9a3e" stroke-opacity="0.69"/><path d="M515.8,153.5 Q508.3,139.9 496.0,128.7" stroke="#5f8d35" stroke-opacity="0.48"/><path d="M515.0,153.5 Q507.5,146.3 496.0,140.4" stroke="#6e9a3e" stroke-opacity="0.50"/><path d="M518.4,153.5 Q513.6,133.5 503.9,117.1" stroke="#4f7d28" stroke-opacity="0.50"/><path d="M514.9,153.5 Q509.5,139.1 500.0,127.3" stroke="#6e9a3e" stroke-opacity="0.81"/><path d="M514.6,153.5 Q515.6,140.5 519.2,129.9" stroke="#5f8d35" stroke-opacity="0.64"/><path d="M513.4,153.5 Q512.5,131.1 507.4,112.7" stroke="#5f8d35" stroke-opacity="0.60"/><path d="M515.9,153.5 Q525.5,146.6 540.1,141.0" stroke="#5f8d35" stroke-opacity="0.63"/><path d="M518.4,153.5 Q512.3,141.7 502.2,132.1" stroke="#5f8d35" stroke-opacity="0.61"/><path d="M515.3,153.5 Q507.9,141.4 496.0,131.4" stroke="#4f7d28" stroke-opacity="0.43"/><path d="M513.3,153.5 Q506.8,140.6 496.0,130.0" stroke="#86ad50" stroke-opacity="0.90"/><path d="M514.1,153.5 Q513.8,125.0 518.5,101.7" stroke="#6e9a3e" stroke-opacity="0.59"/><path d="M520.4,153.5 Q527.6,148.4 538.5,144.2" stroke="#6e9a3e" stroke-opacity="0.92"/><path d="M514.5,153.5 Q518.7,128.6 528.5,108.2" stroke="#86ad50" stroke-opacity="0.60"/><path d="M518.8,153.5 Q527.5,135.6 542.0,121.0" stroke="#5f8d35" stroke-opacity="0.92"/><path d="M513.6,153.5 Q514.2,141.3 512.7,131.3" stroke="#6e9a3e" stroke-opacity="0.58"/><path d="M517.7,153.5 Q521.8,138.4 529.9,126.1" stroke="#86ad50" stroke-opacity="0.82"/><path d="M517.2,153.5 Q518.4,137.3 522.8,124.0" stroke="#4f7d28" stroke-opacity="0.91"/><path d="M520.8,153.5 Q522.3,126.2 529.2,103.9" stroke="#5f8d35" stroke-opacity="0.49"/><path d="M515.6,153.5 Q509.5,131.5 497.6,113.5" stroke="#86ad50" stroke-opacity="0.59"/><path d="M521.0,153.5 Q520.7,131.6 524.3,113.7" stroke="#4f7d28" stroke-opacity="0.50"/><path d="M520.6,153.5 Q524.7,130.2 534.2,111.1" stroke="#86ad50" stroke-opacity="0.70"/><path d="M515.3,153.5 Q515.1,141.8 512.7,132.2" stroke="#86ad50" stroke-opacity="0.81"/><path d="M514.7,153.5 Q516.3,128.0 522.9,107.2" stroke="#86ad50" stroke-opacity="0.74"/><path d="M513.5,153.5 Q512.9,143.0 510.2,134.4" stroke="#6e9a3e" stroke-opacity="0.41"/><path d="M515.4,153.5 Q518.1,131.2 525.5,112.9" stroke="#6e9a3e" stroke-opacity="0.78"/><path d="M515.0,153.5 Q516.5,127.4 513.6,106.0" stroke="#5f8d35" stroke-opacity="0.60"/><path d="M520.1,153.5 Q517.9,132.1 511.2,114.5" stroke="#86ad50" stroke-opacity="0.54"/><path d="M520.6,153.5 Q522.2,131.1 520.1,112.7" stroke="#5f8d35" stroke-opacity="0.66"/><path d="M517.5,153.5 Q526.8,137.5 542.0,124.4" stroke="#6e9a3e" stroke-opacity="0.53"/><path d="M517.7,153.5 Q515.0,139.8 509.1,128.6" stroke="#6e9a3e" stroke-opacity="0.56"/><path d="M513.8,153.5 Q509.5,133.3 500.3,116.8" stroke="#86ad50" stroke-opacity="0.81"/><path d="M519.4,153.5 Q516.8,130.7 509.3,112.0" stroke="#4f7d28" stroke-opacity="0.76"/><path d="M516.2,153.5 Q508.3,145.0 496.0,138.1" stroke="#4f7d28" stroke-opacity="0.45"/><path d="M517.0,153.5 Q515.4,131.2 517.4,113.0" stroke="#5f8d35" stroke-opacity="0.93"/><path d="M515.2,153.5 Q511.6,129.3 502.5,109.5" stroke="#5f8d35" stroke-opacity="0.72"/><path d="M516.2,153.5 Q515.4,141.6 516.6,131.8" stroke="#5f8d35" stroke-opacity="0.90"/><path d="M517.0,153.5 Q509.5,132.8 496.0,115.9" stroke="#86ad50" stroke-opacity="0.87"/><path d="M514.2,153.5 Q514.0,134.7 517.3,119.3" stroke="#6e9a3e" stroke-opacity="0.91"/><path d="M518.2,153.5 Q518.0,135.2 514.5,120.2" stroke="#5f8d35" stroke-opacity="0.78"/><path d="M519.4,153.5 Q515.3,130.8 506.1,112.2" stroke="#6e9a3e" stroke-opacity="0.84"/><path d="M514.4,153.5 Q515.8,135.7 514.3,121.1" stroke="#4f7d28" stroke-opacity="0.93"/><path d="M518.3,153.5 Q515.4,133.7 508.1,117.4" stroke="#86ad50" stroke-opacity="0.91"/><path d="M518.2,153.5 Q523.3,144.2 531.9,136.6" stroke="#6e9a3e" stroke-opacity="0.88"/><path d="M515.5,153.5 Q516.4,138.0 520.4,125.2" stroke="#6e9a3e" stroke-opacity="0.94"/><path d="M518.0,153.5 Q521.9,144.3 528.7,136.8" stroke="#86ad50" stroke-opacity="0.82"/><path d="M519.3,153.5 Q527.8,137.1 542.0,123.6" stroke="#6e9a3e" stroke-opacity="0.92"/><path d="M518.1,153.5 Q514.1,136.6 506.0,122.8" stroke="#4f7d28" stroke-opacity="0.89"/><path d="M517.0,153.5 Q515.1,124.2 518.2,100.3" stroke="#5f8d35" stroke-opacity="0.76"/><path d="M519.2,153.5 Q519.9,134.5 517.4,118.9" stroke="#6e9a3e" stroke-opacity="0.78"/><path d="M513.2,153.5 Q506.6,143.1 496.0,134.5" stroke="#4f7d28" stroke-opacity="0.58"/><path d="M520.4,153.5 Q528.2,132.8 542.0,116.0" stroke="#6e9a3e" stroke-opacity="0.93"/><path d="M519.2,153.5 Q519.7,134.2 516.9,118.4" stroke="#6e9a3e" stroke-opacity="0.52"/><path d="M520.9,153.5 Q526.8,132.5 538.1,115.3" stroke="#4f7d28" stroke-opacity="0.66"/><path d="M519.0,153.5 Q520.3,136.8 525.1,123.1" stroke="#5f8d35" stroke-opacity="0.91"/><path d="M515.9,153.5 Q510.8,138.1 501.3,125.4" stroke="#6e9a3e" stroke-opacity="0.56"/><path d="M519.9,153.5 Q525.0,129.7 535.9,110.2" stroke="#86ad50" stroke-opacity="0.52"/><path d="M520.4,153.5 Q523.6,142.7 529.8,133.9" stroke="#86ad50" stroke-opacity="0.64"/><path d="M518.5,153.5 Q509.7,143.3 496.0,135.0" stroke="#6e9a3e" stroke-opacity="0.72"/><path d="M516.4,153.5 Q517.0,137.9 520.7,125.2" stroke="#4f7d28" stroke-opacity="0.74"/><path d="M514.5,153.5 Q513.6,125.5 507.4,102.5" stroke="#6e9a3e" stroke-opacity="0.55"/><path d="M519.4,153.5 Q521.2,142.2 525.6,132.9" stroke="#4f7d28" stroke-opacity="0.92"/><path d="M514.6,153.5 Q514.5,136.1 511.2,121.8" stroke="#4f7d28" stroke-opacity="0.70"/><path d="M513.0,153.5 Q506.4,145.2 496.0,138.4" stroke="#86ad50" stroke-opacity="0.67"/><path d="M519.3,153.5 Q521.6,137.5 527.4,124.4" stroke="#5f8d35" stroke-opacity="0.77"/><path d="M517.9,153.5 Q523.6,144.4 532.8,137.0" stroke="#4f7d28" stroke-opacity="0.71"/><path d="M516.2,153.5 Q517.1,133.9 521.8,118.0" stroke="#86ad50" stroke-opacity="0.80"/><path d="M518.0,153.5 Q518.9,128.4 524.6,107.9" stroke="#6e9a3e" stroke-opacity="0.91"/><path d="M518.1,153.5 Q522.2,137.1 530.5,123.6" stroke="#4f7d28" stroke-opacity="0.52"/><path d="M519.9,153.5 Q517.0,134.9 510.0,119.7" stroke="#5f8d35" stroke-opacity="0.54"/><path d="M519.3,153.5 Q519.6,128.6 524.5,108.2" stroke="#86ad50" stroke-opacity="0.51"/></g><g fill="none" stroke-width="0.6" stroke-linecap="round"><path d="M518.3,153.5 Q519.8,137.7 524.5,124.8" stroke="#4f7d28" stroke-opacity="0.63"/><path d="M515.4,153.5 Q520.6,130.9 531.3,112.3" stroke="#86ad50" stroke-opacity="0.80"/><path d="M518.0,153.5 Q510.2,135.1 496.7,120.1" stroke="#86ad50" stroke-opacity="0.89"/><path d="M513.6,153.5 Q509.8,139.1 502.3,127.4" stroke="#5f8d35" stroke-opacity="0.80"/><path d="M520.6,153.5 Q519.6,133.1 514.7,116.4" stroke="#6e9a3e" stroke-opacity="0.52"/><path d="M480.7,153.5 Q479.4,151.5 477.3,149.8" stroke="#9cc050" stroke-opacity="0.63"/><path d="M477.6,153.5 Q478.1,150.8 479.1,148.5" stroke="#b4cf5a" stroke-opacity="0.65"/><path d="M476.3,153.5 Q475.2,151.6 473.4,150.0" stroke="#b4cf5a" stroke-opacity="0.70"/><path d="M478.0,153.5 Q477.7,151.3 476.9,149.5" stroke="#9cc050" stroke-opacity="0.43"/><path d="M482.3,153.5 Q482.7,150.0 483.8,147.2" stroke="#9cc050" stroke-opacity="0.70"/><path d="M479.1,153.5 Q478.9,150.1 479.3,147.3" stroke="#b4cf5a" stroke-opacity="0.79"/><path d="M475.6,153.5 Q477.3,151.7 480.0,150.2" stroke="#9cc050" stroke-opacity="0.72"/><path d="M478.6,153.5 Q479.9,152.7 481.9,152.0" stroke="#9cc050" stroke-opacity="0.53"/><path d="M481.9,153.5 Q482.6,150.1 484.2,147.4" stroke="#9cc050" stroke-opacity="0.67"/><path d="M476.8,153.5 Q476.9,151.5 477.4,149.8" stroke="#b4cf5a" stroke-opacity="0.58"/><path d="M478.7,153.5 Q477.2,150.6 474.6,148.3" stroke="#b4cf5a" stroke-opacity="0.78"/><path d="M477.3,153.5 Q477.4,150.8 477.1,148.7" stroke="#b4cf5a" stroke-opacity="0.68"/><path d="M481.1,153.5 Q481.1,150.7 480.5,148.3" stroke="#9cc050" stroke-opacity="0.46"/><path d="M479.1,153.5 Q477.9,151.9 475.9,150.6" stroke="#9cc050" stroke-opacity="0.46"/><path d="M477.0,153.5 Q476.8,149.6 475.8,146.4" stroke="#b4cf5a" stroke-opacity="0.48"/><path d="M492.7,153.5 Q493.2,152.5 494.0,151.6" stroke="#b4cf5a" stroke-opacity="0.51"/><path d="M496.4,153.5 Q495.3,150.7 493.4,148.4" stroke="#b4cf5a" stroke-opacity="0.67"/><path d="M494.8,153.5 Q493.9,151.4 492.4,149.7" stroke="#9cc050" stroke-opacity="0.53"/><path d="M499.5,153.5 Q500.6,152.6 502.3,151.8" stroke="#9cc050" stroke-opacity="0.68"/><path d="M492.7,153.5 Q493.8,152.1 495.6,151.0" stroke="#9cc050" stroke-opacity="0.49"/><path d="M494.3,153.5 Q492.9,151.4 490.7,149.6" stroke="#b4cf5a" stroke-opacity="0.66"/><path d="M499.9,153.5 Q500.5,151.8 501.7,150.5" stroke="#b4cf5a" stroke-opacity="0.77"/><path d="M497.9,153.5 Q496.9,152.9 495.3,152.3" stroke="#9cc050" stroke-opacity="0.64"/><path d="M495.3,153.5 Q495.0,149.4 495.3,146.0" stroke="#9cc050" stroke-opacity="0.55"/><path d="M494.3,153.5 Q492.9,151.2 490.5,149.3" stroke="#b4cf5a" stroke-opacity="0.74"/><path d="M498.5,153.5 Q498.9,149.6 500.1,146.3" stroke="#b4cf5a" stroke-opacity="0.44"/><path d="M492.9,153.5 Q491.5,152.7 489.5,152.0" stroke="#9cc050" stroke-opacity="0.64"/><path d="M499.4,153.5 Q499.8,152.4 500.4,151.5" stroke="#b4cf5a" stroke-opacity="0.62"/><path d="M492.9,153.5 Q492.9,151.4 492.5,149.7" stroke="#9cc050" stroke-opacity="0.42"/><path d="M498.7,153.5 Q498.9,151.1 499.4,149.1" stroke="#b4cf5a" stroke-opacity="0.50"/><path d="M514.5,153.5 Q514.3,150.6 514.6,148.2" stroke="#b4cf5a" stroke-opacity="0.55"/><path d="M516.0,153.5 Q516.1,151.2 516.7,149.2" stroke="#b4cf5a" stroke-opacity="0.59"/><path d="M517.1,153.5 Q517.9,151.0 519.3,149.0" stroke="#9cc050" stroke-opacity="0.68"/><path d="M517.0,153.5 Q515.7,151.1 513.5,149.2" stroke="#9cc050" stroke-opacity="0.58"/><path d="M517.9,153.5 Q519.2,149.6 521.5,146.4" stroke="#b4cf5a" stroke-opacity="0.51"/><path d="M514.6,153.5 Q513.7,152.8 512.5,152.3" stroke="#9cc050" stroke-opacity="0.51"/><path d="M513.3,153.5 Q514.6,149.9 516.9,147.0" stroke="#9cc050" stroke-opacity="0.68"/><path d="M519.9,153.5 Q518.7,150.8 516.6,148.6" stroke="#b4cf5a" stroke-opacity="0.43"/><path d="M514.0,153.5 Q513.7,148.7 514.4,144.7" stroke="#9cc050" stroke-opacity="0.61"/><path d="M514.7,153.5 Q516.0,149.7 518.4,146.5" stroke="#b4cf5a" stroke-opacity="0.61"/><path d="M512.4,153.5 Q510.2,151.7 507.0,150.2" stroke="#9cc050" stroke-opacity="0.69"/><path d="M520.0,153.5 Q517.8,152.2 514.5,151.0" stroke="#b4cf5a" stroke-opacity="0.63"/><path d="M513.1,153.5 Q514.1,150.9 516.0,148.7" stroke="#b4cf5a" stroke-opacity="0.67"/><path d="M513.6,153.5 Q512.1,152.6 509.9,151.8" stroke="#b4cf5a" stroke-opacity="0.40"/><path d="M519.7,153.5 Q520.9,149.8 523.2,146.8" stroke="#b4cf5a" stroke-opacity="0.50"/><path d="M514.7,153.5 Q516.0,150.9 518.0,148.7" stroke="#b4cf5a" stroke-opacity="0.50"/><path d="M520.8,153.5 Q522.8,152.3 525.8,151.3" stroke="#b4cf5a" stroke-opacity="0.42"/><path d="M511.4,153.5 Q511.2,151.0 510.5,149.0" stroke="#b4cf5a" stroke-opacity="0.70"/><path d="M521.6,153.5 Q521.5,149.6 520.6,146.4" stroke="#9cc050" stroke-opacity="0.72"/><path d="M521.8,153.5 Q522.1,151.5 522.8,149.8" stroke="#b4cf5a" stroke-opacity="0.77"/></g>
<text x="2.59" y="217.95" font-size="25.17" fill="#000" font-weight="bold" textLength="17.06" lengthAdjust="spacingAndGlyphs" stroke="#000" stroke-width="0.5">b</text>
<path d="M164.40,316.26 L164.65,317.36 L164.90,318.45 L165.15,319.53 L165.40,320.60 L165.65,321.65 L165.90,322.70 L166.15,323.73 L166.40,324.75 L166.65,325.77 L166.90,326.77 L167.15,327.76 L167.40,328.74 L167.65,329.71 L167.90,330.67 L168.15,331.62 L168.40,332.56 L168.65,333.49 L168.90,334.41 L169.15,335.32 L169.40,336.23 L169.65,337.12 L169.90,338.00 L170.15,338.88 L170.40,339.74 L171.40,343.12 L172.40,346.37 L173.40,349.49 L174.40,352.49 L175.40,355.38 L176.40,358.17 L177.40,360.85 L178.40,363.43 L179.40,365.93 L180.40,368.34 L181.40,370.66 L182.40,372.91 L183.40,375.08 L184.40,377.19 L185.40,379.22 L186.40,381.19 L187.40,383.10 L188.40,384.96 L189.40,386.76 L190.40,388.50 L191.40,390.20 L192.40,391.85 L193.40,393.45 L194.40,395.01 L195.40,396.53 L196.40,398.01 L197.40,399.45 L198.40,400.86 L199.40,402.23 L200.40,403.57 L201.40,404.88 L202.40,406.15 L203.40,407.40 L204.40,408.62 L205.40,409.82 L206.40,410.99 L207.40,412.13 L208.40,413.25 L209.40,414.35 L210.40,415.43 L211.40,416.48 L212.40,417.52 L213.40,418.54 L214.40,419.54 L215.40,420.52 L216.40,421.48 L217.40,422.43 L218.40,423.36 L219.40,424.28 L220.40,425.18 L221.40,426.06 L222.40,426.94 L223.40,427.79 L224.40,428.64 L225.40,429.47 L226.40,430.29 L227.40,431.10 L228.40,431.90 L229.40,432.68 L230.40,433.46 L231.40,434.22 L232.40,434.97 L233.40,435.72 L234.40,436.45 L235.40,437.17 L236.40,437.89 L237.40,438.59 L238.40,439.29 L239.40,439.98 L240.40,440.66 L241.40,441.33 L242.40,441.99 L243.40,442.65 L244.40,443.29 L245.40,443.93 L246.40,444.56 L247.40,445.19 L248.40,445.81 L249.40,446.42 L250.40,447.02 L251.40,447.62 L252.40,448.21 L253.40,448.79 L254.40,449.37 L255.40,449.94 L256.40,450.50 L257.40,451.06 L258.40,451.61 L259.40,452.16 L260.40,452.70 L261.40,453.24 L262.40,453.77 L263.40,454.29 L264.40,454.81 L265.40,455.33 L266.40,455.83 L267.40,456.34 L268.40,456.84 L269.40,457.33 L270.40,457.82 L271.40,458.30 L272.40,458.78 L273.40,459.25 L274.40,459.72 L275.40,460.19 L276.40,460.65 L277.40,461.10 L278.40,461.55 L279.40,462.00 L280.40,462.44 L281.40,462.88 L282.40,463.32 L283.40,463.75 L284.40,464.17 L285.40,464.59 L286.40,465.01 L287.40,465.43 L288.40,465.84 L289.40,466.24 L290.40,466.65 L291.40,467.04 L292.40,467.44 L293.40,467.83 L294.40,468.22 L295.40,468.60 L296.40,468.98 L297.40,469.36 L298.40,469.73 L299.40,470.10 L300.40,470.47 L301.40,470.83 L302.40,471.19 L303.40,471.55 L304.40,471.91 L305.40,472.26 L306.40,472.60 L307.40,472.95 L308.40,473.29 L309.40,473.63 L310.40,473.96 L311.40,474.29 L312.40,474.62 L313.40,474.95 L314.40,475.27 L315.40,475.59 L316.40,475.91 L317.40,476.23 L318.40,476.54 L319.40,476.85 L320.40,477.16 L321.40,477.46 L322.40,477.76 L323.40,478.06 L324.40,478.36 L325.40,478.65 L326.40,478.94 L327.40,479.23 L328.40,479.52 L329.40,479.80 L330.40,480.08 L331.40,480.36 L332.40,480.64 L333.40,480.91 L334.40,481.19 L335.40,481.46 L336.40,481.72 L337.40,481.99 L338.40,482.25 L339.40,482.51 L340.40,482.77 L341.40,483.03 L342.40,483.28 L343.40,483.54 L344.40,483.79 L345.40,484.03 L346.40,484.28 L347.40,484.52 L348.40,484.77 L349.40,485.01 L350.40,485.25 L351.40,485.48 L352.40,485.72 L353.40,485.95 L354.40,486.18 L355.40,486.41 L356.40,486.64 L357.40,486.86 L358.40,487.09 L359.40,487.31 L360.40,487.53 L361.40,487.75 L362.40,487.96 L363.40,488.18 L364.40,488.39 L365.40,488.60 L366.40,488.81 L367.40,489.02 L368.40,489.23 L369.40,489.43 L370.40,489.64 L371.40,489.84 L372.40,490.04 L373.40,490.24 L374.40,490.43 L375.40,490.63 L376.40,490.82 L377.40,491.02 L378.40,491.21 L379.40,491.40 L380.40,491.59 L381.40,491.77 L382.40,491.96 L383.40,492.15 L384.40,492.33 L385.40,492.51 L386.40,492.69 L387.40,492.87 L388.40,493.05 L389.40,493.22 L390.40,493.40 L391.40,493.57 L392.40,493.75 L393.40,493.92 L394.40,494.09 L395.40,494.26 L396.40,494.43 L397.40,494.59 L398.40,494.76 L399.40,494.92 L400.40,495.09 L401.40,495.25 L402.40,495.41 L403.40,495.57 L404.40,495.73 L405.40,495.89 L406.40,496.04 L407.40,496.20 L408.40,496.35 L409.40,496.51 L410.40,496.66 L411.40,496.81 L412.40,496.96 L413.40,497.11 L414.40,497.26 L415.40,497.41 L416.40,497.56 L417.40,497.70 L418.40,497.85 L419.40,497.99 L420.40,498.13 L421.40,498.27 L422.40,498.42 L423.40,498.56 L424.40,498.70 L425.40,498.83 L426.40,498.97 L427.40,499.11 L428.40,499.24 L429.40,499.38 L430.40,499.51 L431.40,499.65 L432.40,499.78 L433.40,499.91 L434.40,500.04 L435.40,500.17 L436.40,500.30 L437.40,500.43 L438.40,500.56 L439.40,500.69 L440.40,500.81 L441.40,500.94 L442.40,501.06 L443.40,501.19 L444.40,501.31 L445.40,501.43 L446.40,501.56 L447.40,501.68 L448.40,501.80 L449.40,501.92 L450.40,502.04 L451.40,502.16 L452.40,502.27 L453.40,502.39 L454.40,502.51 L455.40,502.62 L456.40,502.74 L457.40,502.85 L458.40,502.97 L459.40,503.08 L460.40,503.19 L461.40,503.31 L462.40,503.42 L463.40,503.53 L464.40,503.64 L465.40,503.75 L466.40,503.86 L467.40,503.97 L468.40,504.08 L469.40,504.19 L470.40,504.29 L471.40,504.40 L472.40,504.51 L473.40,504.61 L474.40,504.72 L475.40,504.82 L476.40,504.93 L477.40,505.03 L478.40,505.13 L479.40,505.24 L480.40,505.34 L481.40,505.44 L482.20,505.52 L482.2,464.00 L164.4,464.00 Z" fill="#dcdcdc" stroke="#c0dfb2" stroke-width="1.5"/>
<text x="257.99" y="509.30" font-size="17.16" fill="#1a1a1a" textLength="30.37" lengthAdjust="spacingAndGlyphs">Day</text>
<g transform="translate(25.3,340.65) rotate(-90)"><text x="0" y="0" font-size="17.5" text-anchor="middle" fill="#1a1a1a" textLength="66.7" lengthAdjust="spacingAndGlyphs">CO<tspan font-size="11" dy="5.6">2</tspan><tspan dy="-5.6"> flux</tspan></text></g>
<g transform="translate(46.5,341.9) rotate(-90)"><text x="0" y="0" font-size="16.8" text-anchor="middle" fill="#1a1a1a" textLength="109.6" lengthAdjust="spacingAndGlyphs">(μmol m<tspan font-size="10.5" dy="-9">−2</tspan><tspan dy="9"> s</tspan><tspan font-size="10.5" dy="-9">−1</tspan><tspan dy="9">)</tspan></text></g>
<path d="M74.2,418.4 H160.1 V237.1" fill="none" stroke="#2f7bc5" stroke-width="2.8"/>
<path d="M160.10,238.03 L160.35,239.35 L160.60,240.66 L160.85,241.95 L161.10,243.21 L161.35,244.46 L161.60,245.69 L161.85,246.90 L162.10,248.09 L162.35,249.26 L162.60,250.41 L162.85,251.55 L163.10,252.67 L163.35,253.78 L163.60,254.86 L163.85,255.94 L164.10,256.99 L164.35,258.03 L164.60,259.06 L164.85,260.07 L165.10,261.07 L165.35,262.05 L165.60,263.02 L165.85,263.97 L166.10,264.91 L167.10,268.55 L168.10,271.99 L169.10,275.25 L170.10,278.35 L171.10,281.28 L172.10,284.08 L173.10,286.74 L174.10,289.28 L175.10,291.70 L176.10,294.01 L177.10,296.23 L178.10,298.35 L179.10,300.39 L180.10,302.35 L181.10,304.23 L182.10,306.04 L183.10,307.79 L184.10,309.47 L185.10,311.10 L186.10,312.67 L187.10,314.20 L188.10,315.68 L189.10,317.11 L190.10,318.50 L191.10,319.85 L192.10,321.17 L193.10,322.45 L194.10,323.70 L195.10,324.92 L196.10,326.10 L197.10,327.26 L198.10,328.40 L199.10,329.51 L200.10,330.59 L201.10,331.65 L202.10,332.69 L203.10,333.71 L204.10,334.71 L205.10,335.69 L206.10,336.66 L207.10,337.60 L208.10,338.53 L209.10,339.44 L210.10,340.34 L211.10,341.22 L212.10,342.09 L213.10,342.94 L214.10,343.78 L215.10,344.61 L216.10,345.42 L217.10,346.22 L218.10,347.01 L219.10,347.79 L220.10,348.55 L221.10,349.31 L222.10,350.05 L223.10,350.78 L224.10,351.51 L225.10,352.22 L226.10,352.92 L227.10,353.62 L228.10,354.30 L229.10,354.97 L230.10,355.64 L231.10,356.29 L232.10,356.94 L233.10,357.58 L234.10,358.21 L235.10,358.83 L236.10,359.45 L237.10,360.05 L238.10,360.65 L239.10,361.24 L240.10,361.82 L241.10,362.40 L242.10,362.96 L243.10,363.52 L244.10,364.08 L245.10,364.62 L246.10,365.16 L247.10,365.69 L248.10,366.21 L249.10,366.73 L250.10,367.24 L251.10,367.75 L252.10,368.24 L253.10,368.73 L254.10,369.22 L255.10,369.70 L256.10,370.17 L257.10,370.63 L258.10,371.09 L259.10,371.55 L260.10,372.00 L261.10,372.44 L262.10,372.87 L263.10,373.30 L264.10,373.73 L265.10,374.15 L266.10,374.56 L267.10,374.97 L268.10,375.37 L269.10,375.77 L270.10,376.16 L271.10,376.55 L272.10,376.93 L273.10,377.31 L274.10,377.68 L275.10,378.04 L276.10,378.41 L277.10,378.76 L278.10,379.11 L279.10,379.46 L280.10,379.80 L281.10,380.14 L282.10,380.47 L283.10,380.80 L284.10,381.13 L285.10,381.44 L286.10,381.76 L287.10,382.07 L288.10,382.37 L289.10,382.68 L290.10,382.97 L291.10,383.27 L292.10,383.56 L293.10,383.84 L294.10,384.12 L295.10,384.40 L296.10,384.67 L297.10,384.94 L298.10,385.20 L299.10,385.47 L300.10,385.72 L301.10,385.98 L302.10,386.23 L303.10,386.47 L304.10,386.71 L305.10,386.95 L306.10,387.19 L307.10,387.42 L308.10,387.65 L309.10,387.87 L310.10,388.09 L311.10,388.31 L312.10,388.52 L313.10,388.73 L314.10,388.94 L315.10,389.15 L316.10,389.35 L317.10,389.55 L318.10,389.74 L319.10,389.93 L320.10,390.12 L321.10,390.31 L322.10,390.49 L323.10,390.67 L324.10,390.84 L325.10,391.02 L326.10,391.19 L327.10,391.36 L328.10,391.52 L329.10,391.68 L330.10,391.84 L331.10,392.00 L332.10,392.15 L333.10,392.31 L334.10,392.45 L335.10,392.60 L336.10,392.74 L337.10,392.88 L338.10,393.02 L339.10,393.16 L340.10,393.29 L341.10,393.42 L342.10,393.55 L343.10,393.68 L344.10,393.80 L345.10,393.92 L346.10,394.04 L347.10,394.16 L348.10,394.27 L349.10,394.38 L350.10,394.49 L351.10,394.60 L352.10,394.70 L353.10,394.81 L354.10,394.91 L355.10,395.01 L356.10,395.10 L357.10,395.20 L358.10,395.29 L359.10,395.38 L360.10,395.47 L361.10,395.56 L362.10,395.64 L363.10,395.72 L364.10,395.80 L365.10,395.88 L366.10,395.96 L367.10,396.03 L368.10,396.11 L369.10,396.18 L370.10,396.25 L371.10,396.32 L372.10,396.38 L373.10,396.45 L374.10,396.51 L375.10,396.57 L376.10,396.63 L377.10,396.68 L378.10,396.74 L379.10,396.79 L380.10,396.85 L381.10,396.90 L382.10,396.95 L383.10,396.99 L384.10,397.04 L385.10,397.08 L386.10,397.13 L387.10,397.17 L388.10,397.21 L389.10,397.25 L390.10,397.28 L391.10,397.32 L392.10,397.35 L393.10,397.39 L394.10,397.42 L395.10,397.45 L396.10,397.48 L397.10,397.50 L398.10,397.53 L399.10,397.55 L400.10,397.58 L401.10,397.60 L402.10,397.62 L403.10,397.64 L404.10,397.66 L405.10,397.67 L406.10,397.69 L407.10,397.70 L408.10,397.71 L409.10,397.73 L410.10,397.74 L411.10,397.75 L412.10,397.75 L413.10,397.76 L414.10,397.77 L415.10,397.77 L416.10,397.78 L417.10,397.78 L418.10,397.78 L419.10,397.78 L420.10,397.78 L421.10,397.78 L422.10,397.78 L423.10,397.77 L424.10,397.77 L425.10,397.76 L426.10,397.76 L427.10,397.75 L428.10,397.74 L429.10,397.73 L430.10,397.72 L431.10,397.71 L432.10,397.70 L433.10,397.68 L434.10,397.67 L435.10,397.65 L436.10,397.64 L437.10,397.62 L438.10,397.60 L439.10,397.58 L440.10,397.56 L441.10,397.54 L442.10,397.52 L443.10,397.50 L444.10,397.48 L445.10,397.45 L446.10,397.43 L447.10,397.40 L448.10,397.38 L449.10,397.35 L450.10,397.32 L451.10,397.29 L452.10,397.26 L453.10,397.23 L454.10,397.20 L455.10,397.17 L456.10,397.14 L457.10,397.11 L458.10,397.07 L459.10,397.04 L460.10,397.00 L461.10,396.97 L462.10,396.93 L463.10,396.89 L464.10,396.86 L465.10,396.82 L466.10,396.78 L467.10,396.74 L468.10,396.70 L469.10,396.66 L470.10,396.62 L471.10,396.57 L472.10,396.53 L473.10,396.49 L474.10,396.44 L475.10,396.40 L476.10,396.35 L477.10,396.31 L478.10,396.26 L479.10,396.22 L480.10,396.17 L481.10,396.12 L482.10,396.07 L482.20,396.07" fill="none" stroke="#2f7bc5" stroke-width="2.8"/>
<path d="M72.4,451.4 H160.7" fill="none" stroke="#e98a2c" stroke-width="2.7" stroke-dasharray="7.1 6.65"/>
<path d="M160.7,451.4 V271.5" fill="none" stroke="#e98a2c" stroke-width="2.7" stroke-dasharray="6.6 7.15" stroke-dashoffset="7.15"/>
<path d="M161.50,273.12 L161.75,274.61 L162.00,276.06 L162.25,277.48 L162.50,278.87 L162.75,280.24 L163.00,281.57 L163.25,282.87 L163.50,284.15 L163.75,285.40 L164.00,286.62 L164.25,287.82 L164.50,288.99 L164.75,290.14 L165.00,291.27 L165.25,292.38 L165.50,293.46 L165.75,294.53 L166.00,295.57 L166.25,296.60 L166.50,297.60 L166.75,298.59 L167.00,299.56 L167.25,300.51 L167.50,301.44 L168.50,305.03 L169.50,308.37 L170.50,311.52 L171.50,314.47 L172.50,317.26 L173.50,319.90 L174.50,322.41 L175.50,324.80 L176.50,327.08 L177.50,329.27 L178.50,331.36 L179.50,333.37 L180.50,335.31 L181.50,337.19 L182.50,338.99 L183.50,340.75 L184.50,342.44 L185.50,344.09 L186.50,345.70 L187.50,347.25 L188.50,348.77 L189.50,350.25 L190.50,351.70 L191.50,353.11 L192.50,354.49 L193.50,355.84 L194.50,357.16 L195.50,358.45 L196.50,359.71 L197.50,360.95 L198.50,362.16 L199.50,363.35 L200.50,364.51 L201.50,365.66 L202.50,366.78 L203.50,367.88 L204.50,368.96 L205.50,370.02 L206.50,371.06 L207.50,372.08 L208.50,373.08 L209.50,374.07 L210.50,375.03 L211.50,375.98 L212.50,376.92 L213.50,377.83 L214.50,378.74 L215.50,379.62 L216.50,380.49 L217.50,381.35 L218.50,382.19 L219.50,383.01 L220.50,383.82 L221.50,384.62 L222.50,385.41 L223.50,386.18 L224.50,386.93 L225.50,387.68 L226.50,388.41 L227.50,389.13 L228.50,389.84 L229.50,390.54 L230.50,391.22 L231.50,391.89 L232.50,392.56 L233.50,393.21 L234.50,393.85 L235.50,394.48 L236.50,395.10 L237.50,395.70 L238.50,396.30 L239.50,396.89 L240.50,397.47 L241.50,398.04 L242.50,398.60 L243.50,399.16 L244.50,399.70 L245.50,400.23 L246.50,400.76 L247.50,401.28 L248.50,401.78 L249.50,402.28 L250.50,402.78 L251.50,403.26 L252.50,403.74 L253.50,404.21 L254.50,404.67 L255.50,405.13 L256.50,405.57 L257.50,406.01 L258.50,406.45 L259.50,406.88 L260.50,407.30 L261.50,407.71 L262.50,408.12 L263.50,408.52 L264.50,408.91 L265.50,409.30 L266.50,409.69 L267.50,410.06 L268.50,410.43 L269.50,410.80 L270.50,411.16 L271.50,411.52 L272.50,411.87 L273.50,412.21 L274.50,412.55 L275.50,412.88 L276.50,413.21 L277.50,413.54 L278.50,413.86 L279.50,414.17 L280.50,414.48 L281.50,414.79 L282.50,415.09 L283.50,415.39 L284.50,415.68 L285.50,415.97 L286.50,416.26 L287.50,416.54 L288.50,416.81 L289.50,417.09 L290.50,417.36 L291.50,417.62 L292.50,417.88 L293.50,418.14 L294.50,418.40 L295.50,418.65 L296.50,418.90 L297.50,419.14 L298.50,419.38 L299.50,419.62 L300.50,419.85 L301.50,420.09 L302.50,420.31 L303.50,420.54 L304.50,420.76 L305.50,420.98 L306.50,421.20 L307.50,421.41 L308.50,421.63 L309.50,421.83 L310.50,422.04 L311.50,422.24 L312.50,422.45 L313.50,422.64 L314.50,422.84 L315.50,423.03 L316.50,423.23 L317.50,423.42 L318.50,423.60 L319.50,423.79 L320.50,423.97 L321.50,424.15 L322.50,424.33 L323.50,424.51 L324.50,424.68 L325.50,424.85 L326.50,425.02 L327.50,425.19 L328.50,425.36 L329.50,425.52 L330.50,425.68 L331.50,425.85 L332.50,426.00 L333.50,426.16 L334.50,426.32 L335.50,426.47 L336.50,426.63 L337.50,426.78 L338.50,426.93 L339.50,427.07 L340.50,427.22 L341.50,427.37 L342.50,427.51 L343.50,427.65 L344.50,427.79 L345.50,427.93 L346.50,428.07 L347.50,428.21 L348.50,428.34 L349.50,428.48 L350.50,428.61 L351.50,428.74 L352.50,428.87 L353.50,429.00 L354.50,429.13 L355.50,429.26 L356.50,429.38 L357.50,429.51 L358.50,429.63 L359.50,429.75 L360.50,429.87 L361.50,429.99 L362.50,430.11 L363.50,430.23 L364.50,430.35 L365.50,430.47 L366.50,430.58 L367.50,430.70 L368.50,430.81 L369.50,430.92 L370.50,431.04 L371.50,431.15 L372.50,431.26 L373.50,431.37 L374.50,431.48 L375.50,431.59 L376.50,431.69 L377.50,431.80 L378.50,431.91 L379.50,432.01 L380.50,432.12 L381.50,432.22 L382.50,432.32 L383.50,432.42 L384.50,432.53 L385.50,432.63 L386.50,432.73 L387.50,432.83 L388.50,432.93 L389.50,433.02 L390.50,433.12 L391.50,433.22 L392.50,433.32 L393.50,433.41 L394.50,433.51 L395.50,433.60 L396.50,433.70 L397.50,433.79 L398.50,433.89 L399.50,433.98 L400.50,434.07 L401.50,434.16 L402.50,434.26 L403.50,434.35 L404.50,434.44 L405.50,434.53 L406.50,434.62 L407.50,434.71 L408.50,434.80 L409.50,434.88 L410.50,434.97 L411.50,435.06 L412.50,435.15 L413.50,435.23 L414.50,435.32 L415.50,435.41 L416.50,435.49 L417.50,435.58 L418.50,435.66 L419.50,435.75 L420.50,435.83 L421.50,435.92 L422.50,436.00 L423.50,436.08 L424.50,436.17 L425.50,436.25 L426.50,436.33 L427.50,436.41 L428.50,436.50 L429.50,436.58 L430.50,436.66 L431.50,436.74 L432.50,436.82 L433.50,436.90 L434.50,436.98 L435.50,437.06 L436.50,437.14 L437.50,437.22 L438.50,437.30 L439.50,437.38 L440.50,437.46 L441.50,437.54 L442.50,437.61 L443.50,437.69 L444.50,437.77 L445.50,437.85 L446.50,437.93 L447.50,438.00 L448.50,438.08 L449.50,438.16 L450.50,438.23 L451.50,438.31 L452.50,438.39 L453.50,438.46 L454.50,438.54 L455.50,438.61 L456.50,438.69 L457.50,438.77 L458.50,438.84 L459.50,438.92 L460.50,438.99 L461.50,439.06 L462.50,439.14 L463.50,439.21 L464.50,439.29 L465.50,439.36 L466.50,439.44 L467.50,439.51 L468.50,439.58 L469.50,439.66 L470.50,439.73 L471.50,439.80 L472.50,439.88 L473.50,439.95 L474.50,440.02 L475.50,440.10 L476.50,440.17 L477.50,440.24 L478.50,440.31 L479.50,440.39 L480.50,440.46 L481.50,440.53 L482.20,440.58" fill="none" stroke="#e98a2c" stroke-width="2.7" stroke-dasharray="7.1 6.7"/>
<path d="M74.0,497.0 H164.4 V315.6" fill="none" stroke="#5aac46" stroke-width="2.7"/>
<path d="M164.40,316.26 L164.65,317.36 L164.90,318.45 L165.15,319.53 L165.40,320.60 L165.65,321.65 L165.90,322.70 L166.15,323.73 L166.40,324.75 L166.65,325.77 L166.90,326.77 L167.15,327.76 L167.40,328.74 L167.65,329.71 L167.90,330.67 L168.15,331.62 L168.40,332.56 L168.65,333.49 L168.90,334.41 L169.15,335.32 L169.40,336.23 L169.65,337.12 L169.90,338.00 L170.15,338.88 L170.40,339.74 L171.40,343.12 L172.40,346.37 L173.40,349.49 L174.40,352.49 L175.40,355.38 L176.40,358.17 L177.40,360.85 L178.40,363.43 L179.40,365.93 L180.40,368.34 L181.40,370.66 L182.40,372.91 L183.40,375.08 L184.40,377.19 L185.40,379.22 L186.40,381.19 L187.40,383.10 L188.40,384.96 L189.40,386.76 L190.40,388.50 L191.40,390.20 L192.40,391.85 L193.40,393.45 L194.40,395.01 L195.40,396.53 L196.40,398.01 L197.40,399.45 L198.40,400.86 L199.40,402.23 L200.40,403.57 L201.40,404.88 L202.40,406.15 L203.40,407.40 L204.40,408.62 L205.40,409.82 L206.40,410.99 L207.40,412.13 L208.40,413.25 L209.40,414.35 L210.40,415.43 L211.40,416.48 L212.40,417.52 L213.40,418.54 L214.40,419.54 L215.40,420.52 L216.40,421.48 L217.40,422.43 L218.40,423.36 L219.40,424.28 L220.40,425.18 L221.40,426.06 L222.40,426.94 L223.40,427.79 L224.40,428.64 L225.40,429.47 L226.40,430.29 L227.40,431.10 L228.40,431.90 L229.40,432.68 L230.40,433.46 L231.40,434.22 L232.40,434.97 L233.40,435.72 L234.40,436.45 L235.40,437.17 L236.40,437.89 L237.40,438.59 L238.40,439.29 L239.40,439.98 L240.40,440.66 L241.40,441.33 L242.40,441.99 L243.40,442.65 L244.40,443.29 L245.40,443.93 L246.40,444.56 L247.40,445.19 L248.40,445.81 L249.40,446.42 L250.40,447.02 L251.40,447.62 L252.40,448.21 L253.40,448.79 L254.40,449.37 L255.40,449.94 L256.40,450.50 L257.40,451.06 L258.40,451.61 L259.40,452.16 L260.40,452.70 L261.40,453.24 L262.40,453.77 L263.40,454.29 L264.40,454.81 L265.40,455.33 L266.40,455.83 L267.40,456.34 L268.40,456.84 L269.40,457.33 L270.40,457.82 L271.40,458.30 L272.40,458.78 L273.40,459.25 L274.40,459.72 L275.40,460.19 L276.40,460.65 L277.40,461.10 L278.40,461.55 L279.40,462.00 L280.40,462.44 L281.40,462.88 L282.40,463.32 L283.40,463.75 L284.40,464.17 L285.40,464.59 L286.40,465.01 L287.40,465.43 L288.40,465.84 L289.40,466.24 L290.40,466.65 L291.40,467.04 L292.40,467.44 L293.40,467.83 L294.40,468.22 L295.40,468.60 L296.40,468.98 L297.40,469.36 L298.40,469.73 L299.40,470.10 L300.40,470.47 L301.40,470.83 L302.40,471.19 L303.40,471.55 L304.40,471.91 L305.40,472.26 L306.40,472.60 L307.40,472.95 L308.40,473.29 L309.40,473.63 L310.40,473.96 L311.40,474.29 L312.40,474.62 L313.40,474.95 L314.40,475.27 L315.40,475.59 L316.40,475.91 L317.40,476.23 L318.40,476.54 L319.40,476.85 L320.40,477.16 L321.40,477.46 L322.40,477.76 L323.40,478.06 L324.40,478.36 L325.40,478.65 L326.40,478.94 L327.40,479.23 L328.40,479.52 L329.40,479.80 L330.40,480.08 L331.40,480.36 L332.40,480.64 L333.40,480.91 L334.40,481.19 L335.40,481.46 L336.40,481.72 L337.40,481.99 L338.40,482.25 L339.40,482.51 L340.40,482.77 L341.40,483.03 L342.40,483.28 L343.40,483.54 L344.40,483.79 L345.40,484.03 L346.40,484.28 L347.40,484.52 L348.40,484.77 L349.40,485.01 L350.40,485.25 L351.40,485.48 L352.40,485.72 L353.40,485.95 L354.40,486.18 L355.40,486.41 L356.40,486.64 L357.40,486.86 L358.40,487.09 L359.40,487.31 L360.40,487.53 L361.40,487.75 L362.40,487.96 L363.40,488.18 L364.40,488.39 L365.40,488.60 L366.40,488.81 L367.40,489.02 L368.40,489.23 L369.40,489.43 L370.40,489.64 L371.40,489.84 L372.40,490.04 L373.40,490.24 L374.40,490.43 L375.40,490.63 L376.40,490.82 L377.40,491.02 L378.40,491.21 L379.40,491.40 L380.40,491.59 L381.40,491.77 L382.40,491.96 L383.40,492.15 L384.40,492.33 L385.40,492.51 L386.40,492.69 L387.40,492.87 L388.40,493.05 L389.40,493.22 L390.40,493.40 L391.40,493.57 L392.40,493.75 L393.40,493.92 L394.40,494.09 L395.40,494.26 L396.40,494.43 L397.40,494.59 L398.40,494.76 L399.40,494.92 L400.40,495.09 L401.40,495.25 L402.40,495.41 L403.40,495.57 L404.40,495.73 L405.40,495.89 L406.40,496.04 L407.40,496.20 L408.40,496.35 L409.40,496.51 L410.40,496.66 L411.40,496.81 L412.40,496.96 L413.40,497.11 L414.40,497.26 L415.40,497.41 L416.40,497.56 L417.40,497.70 L418.40,497.85 L419.40,497.99 L420.40,498.13 L421.40,498.27 L422.40,498.42 L423.40,498.56 L424.40,498.70 L425.40,498.83 L426.40,498.97 L427.40,499.11 L428.40,499.24 L429.40,499.38 L430.40,499.51 L431.40,499.65 L432.40,499.78 L433.40,499.91 L434.40,500.04 L435.40,500.17 L436.40,500.30 L437.40,500.43 L438.40,500.56 L439.40,500.69 L440.40,500.81 L441.40,500.94 L442.40,501.06 L443.40,501.19 L444.40,501.31 L445.40,501.43 L446.40,501.56 L447.40,501.68 L448.40,501.80 L449.40,501.92 L450.40,502.04 L451.40,502.16 L452.40,502.27 L453.40,502.39 L454.40,502.51 L455.40,502.62 L456.40,502.74 L457.40,502.85 L458.40,502.97 L459.40,503.08 L460.40,503.19 L461.40,503.31 L462.40,503.42 L463.40,503.53 L464.40,503.64 L465.40,503.75 L466.40,503.86 L467.40,503.97 L468.40,504.08 L469.40,504.19 L470.40,504.29 L471.40,504.40 L472.40,504.51 L473.40,504.61 L474.40,504.72 L475.40,504.82 L476.40,504.93 L477.40,505.03 L478.40,505.13 L479.40,505.24 L480.40,505.34 L481.40,505.44 L482.20,505.52" fill="none" stroke="#5aac46" stroke-width="2.7"/>
<path d="M76.40,430.48 L79.13,430.44 L81.85,430.40 L84.57,430.36 L87.30,430.33 L90.02,430.29 L92.75,430.27 L95.47,430.24 L98.20,430.22 L100.92,430.20 L103.64,430.18 L106.37,430.16 L109.10,430.15 L111.82,430.14 L114.55,430.13 L117.27,430.12 L120.00,430.11 L122.72,430.11 L125.45,430.11 L128.18,430.11 L130.90,430.11 L133.63,430.12 L136.36,430.12 L139.08,430.13 L141.81,430.14 L144.54,430.15 L147.26,430.16 L149.99,430.18 L152.72,430.19 L155.44,430.21 L158.17,430.23 L160.90,430.24 L163.63,430.26 L166.35,430.28 L169.08,430.30 L171.81,430.33 L174.54,430.35 L177.27,430.37 L179.99,430.39 L182.72,430.42 L185.45,430.44 L188.18,430.47 L190.91,430.49 L193.64,430.52 L196.36,430.54 L199.09,430.57 L201.82,430.59 L204.55,430.62 L207.28,430.64 L210.01,430.67 L212.74,430.69 L215.46,430.72 L218.19,430.74 L220.92,430.77 L223.65,430.79 L226.38,430.81 L229.11,430.83 L231.84,430.85 L234.56,430.87 L237.29,430.89 L240.02,430.91 L242.75,430.93 L245.48,430.95 L248.21,430.96 L250.94,430.98 L253.66,430.99 L256.39,431.00 L259.12,431.01 L261.85,431.02 L264.58,431.02 L267.31,431.03 L270.03,431.03 L272.76,431.03 L275.49,431.03 L278.22,431.03 L280.95,431.03 L283.67,431.02 L286.40,431.01 L289.13,431.00 L291.86,430.99 L294.58,430.98 L297.31,430.96 L300.04,430.94 L302.77,430.92 L305.49,430.89 L308.22,430.86 L310.95,430.83 L313.67,430.80 L316.40,430.76 L319.13,430.72 L321.85,430.68 L324.58,430.64 L327.30,430.59 L330.03,430.54 L332.76,430.48 L335.48,430.42 L338.21,430.36 L340.93,430.30 L343.66,430.23 L346.38,430.16 L349.11,430.08 L351.83,430.00 L354.55,429.92 L357.28,429.83 L360.00,429.74 L362.73,429.64 L365.45,429.54 L368.17,429.44 L370.90,429.33 L373.62,429.22 L376.34,429.10 L379.06,428.98 L381.79,428.85 L384.51,428.72 L387.23,428.59 L389.95,428.45 L392.67,428.30 L395.40,428.15 L398.12,428.00 L400.84,427.84 L403.56,427.67 L406.28,427.51 L409.00,427.33 L411.72,427.15 L414.44,426.96 L417.16,426.77 L419.87,426.58 L422.59,426.37 L425.31,426.17 L428.03,425.95 L430.75,425.73 L433.47,425.51 L436.18,425.28 L438.90,425.04 L441.62,424.80 L444.33,424.55 L447.05,424.29 L449.76,424.03 L452.48,423.76 L455.19,423.49 L457.91,423.21 L460.62,422.92 L463.34,422.63 L466.05,422.33 L468.76,422.02 L471.48,421.71 L474.19,421.39 L476.90,421.06 L479.61,420.72 L482.33,420.38" fill="none" stroke="#c4362f" stroke-width="2.8" stroke-dasharray="7.2 6.563"/>
<line x1="73" y1="542.5" x2="120" y2="542.5" stroke="#bcbcbc" stroke-width="3"/>
<path d="M118.35,541.90 L121.43,541.75 L124.51,541.61 L127.58,541.47 L130.66,541.35 L133.73,541.24 L136.81,541.15 L139.88,541.06 L142.95,540.98 L146.03,540.92 L149.10,540.87 L152.17,540.82 L155.24,540.79 L158.31,540.77 L161.38,540.75 L164.45,540.75 L167.52,540.76 L170.59,540.78 L173.66,540.80 L176.72,540.84 L179.79,540.89 L182.86,540.94 L185.92,541.01 L188.99,541.08 L192.05,541.17 L195.12,541.26 L198.18,541.36 L201.25,541.47 L204.31,541.59 L207.37,541.72 L210.43,541.86 L213.50,542.00 L216.56,542.15 L219.62,542.31 L222.68,542.48 L225.74,542.66 L228.80,542.84 L231.86,543.03 L234.91,543.23 L237.97,543.44 L241.03,543.65 L244.09,543.87 L247.14,544.10 L250.20,544.33 L253.26,544.57 L256.31,544.82 L259.37,545.07 L262.42,545.33 L265.47,545.60 L268.53,545.87 L271.58,546.15 L274.63,546.44 L277.69,546.73 L280.74,547.02 L283.79,547.33 L286.84,547.63 L289.89,547.95 L292.94,548.26 L295.99,548.59 L299.04,548.92 L302.09,549.25 L305.14,549.59 L308.19,549.93 L311.24,550.28 L314.29,550.63 L317.34,550.98 L320.38,551.34 L323.43,551.70 L326.48,552.07 L329.52,552.44 L332.57,552.82 L335.62,553.20 L338.66,553.58 L341.71,553.96 L344.75,554.35 L347.80,554.74 L350.84,555.14 L353.88,555.54 L356.93,555.94 L359.97,556.34 L363.01,556.75 L366.05,557.15 L369.10,557.56 L372.14,557.98 L375.18,558.39 L378.22,558.81 L381.26,559.22 L384.30,559.64 L387.34,560.06 L390.38,560.49 L393.42,560.91 L396.46,561.34 L399.50,561.76 L402.54,562.19 L405.58,562.62 L408.62,563.05 L411.66,563.48 L414.70,563.91 L417.74,564.34 L420.77,564.77 L423.81,565.20 L426.85,565.63 L429.89,566.06 L432.92,566.49 L435.96,566.92 L438.99,567.35 L442.03,567.78 L445.07,568.21 L448.10,568.64 L451.14,569.06 L454.17,569.49 L457.21,569.91 L460.24,570.34 L463.28,570.76 L466.31,571.18 L469.35,571.60 L472.38,572.02 L475.42,572.43 L478.45,572.85 L481.48,573.26" fill="none" stroke="#bcbcbc" stroke-width="4.6"/>
<line x1="95.5" y1="218.3" x2="95.5" y2="589" stroke="#333333" stroke-width="1.3"/>
<line x1="51.7" y1="464.00" x2="495.7" y2="464.00" stroke="#555" stroke-width="1.3"/>
<line x1="95.5" y1="237.70" x2="102.8" y2="237.70" stroke="#333333" stroke-width="1.3"/>
<line x1="95.5" y1="283.40" x2="102.8" y2="283.40" stroke="#333333" stroke-width="1.3"/>
<line x1="95.5" y1="329.00" x2="102.8" y2="329.00" stroke="#333333" stroke-width="1.3"/>
<line x1="95.5" y1="374.40" x2="102.8" y2="374.40" stroke="#333333" stroke-width="1.3"/>
<line x1="95.5" y1="418.70" x2="102.8" y2="418.70" stroke="#333333" stroke-width="1.3"/>
<line x1="95.5" y1="509.60" x2="102.8" y2="509.60" stroke="#333333" stroke-width="1.3"/>
<line x1="95.5" y1="555.00" x2="102.8" y2="555.00" stroke="#333333" stroke-width="1.3"/>
<text x="70.19" y="242.60" font-size="15.05" fill="#1a1a1a" textLength="16.50" lengthAdjust="spacingAndGlyphs">10</text>
<text x="78.33" y="287.70" font-size="14.91" fill="#1a1a1a" textLength="8.76" lengthAdjust="spacingAndGlyphs">8</text>
<text x="77.22" y="333.70" font-size="14.77" fill="#1a1a1a" textLength="9.74" lengthAdjust="spacingAndGlyphs">6</text>
<text x="78.37" y="379.50" font-size="13.67" fill="#1a1a1a" textLength="8.26" lengthAdjust="spacingAndGlyphs">4</text>
<text x="78.44" y="415.60" font-size="13.48" fill="#1a1a1a" textLength="9.53" lengthAdjust="spacingAndGlyphs">2</text>
<text x="70.87" y="515.20" font-size="14.48" fill="#1a1a1a">−2</text>
<text x="69.74" y="559.70" font-size="15.56" fill="#1a1a1a" textLength="17.38" lengthAdjust="spacingAndGlyphs">−4</text>
<line x1="73.70" y1="457.00" x2="73.70" y2="464.00" stroke="#333333" stroke-width="1.3"/>
<line x1="119.60" y1="457.00" x2="119.60" y2="464.00" stroke="#333333" stroke-width="1.3"/>
<line x1="164.60" y1="457.00" x2="164.60" y2="464.00" stroke="#333333" stroke-width="1.3"/>
<line x1="210.50" y1="457.00" x2="210.50" y2="464.00" stroke="#333333" stroke-width="1.3"/>
<line x1="256.30" y1="457.00" x2="256.30" y2="464.00" stroke="#333333" stroke-width="1.3"/>
<line x1="301.00" y1="457.00" x2="301.00" y2="464.00" stroke="#333333" stroke-width="1.3"/>
<line x1="345.80" y1="457.00" x2="345.80" y2="464.00" stroke="#333333" stroke-width="1.3"/>
<line x1="391.40" y1="457.00" x2="391.40" y2="464.00" stroke="#333333" stroke-width="1.3"/>
<line x1="437.00" y1="457.00" x2="437.00" y2="464.00" stroke="#333333" stroke-width="1.3"/>
<line x1="482.20" y1="457.00" x2="482.20" y2="464.00" stroke="#333333" stroke-width="1.3"/>
<text x="73.05" y="483.60" font-size="14.98" fill="#1a1a1a" textLength="14.76" lengthAdjust="spacingAndGlyphs">−1</text>
<text x="114.46" y="483.60" font-size="14.77" fill="#1a1a1a" textLength="10.25" lengthAdjust="spacingAndGlyphs">0</text>
<text x="205.88" y="483.60" font-size="14.77" fill="#1a1a1a" textLength="9.17" lengthAdjust="spacingAndGlyphs">2</text>
<text x="251.55" y="483.60" font-size="14.77" fill="#1a1a1a" textLength="9.60" lengthAdjust="spacingAndGlyphs">3</text>
<text x="296.76" y="483.60" font-size="14.98" fill="#1a1a1a" textLength="8.48" lengthAdjust="spacingAndGlyphs">4</text>
<text x="341.03" y="483.60" font-size="14.98" fill="#1a1a1a" textLength="9.25" lengthAdjust="spacingAndGlyphs">5</text>
<text x="386.20" y="483.60" font-size="14.77" fill="#1a1a1a" textLength="9.98" lengthAdjust="spacingAndGlyphs">6</text>
<text x="431.94" y="483.60" font-size="14.98" fill="#1a1a1a" textLength="9.53" lengthAdjust="spacingAndGlyphs">7</text>
<text x="477.12" y="483.60" font-size="14.77" fill="#1a1a1a" textLength="10.18" lengthAdjust="spacingAndGlyphs">8</text>
<text x="156.08" y="483.60" font-size="14.98" fill="#1a1a1a">1</text>
<path d="M155.3,237.1 H147.9 V412.5 H153.5" fill="none" stroke="#111" stroke-width="1.9" stroke-dasharray="4.4 4.8"/>
<g transform="translate(132.3,337.1) rotate(-90)"><text x="0" y="0" font-size="17.3" fill="#1a1a1a" textLength="20.30" lengthAdjust="spacingAndGlyphs">(2)</text></g>
<path d="M163.1,518.7 V525.7 H482.3 V518.4" fill="none" stroke="#666" stroke-width="1.7" stroke-dasharray="4.75 4.43"/>
<text x="312.27" y="542.78" font-size="16.94" fill="#1a1a1a" textLength="20.22" lengthAdjust="spacingAndGlyphs">(1)</text>
<text x="173.03" y="418.50" font-size="16.41" fill="#1a1a1a" textLength="24.89" lengthAdjust="spacingAndGlyphs">(3)</text>
<text x="217.04" y="320.97" font-size="17.48" fill="#1a1a1a" textLength="22.67" lengthAdjust="spacingAndGlyphs">(4)</text>
<path d="M196.1,307.6 Q207.5,324 225.6,336.6" fill="none" stroke="#3a4a66" stroke-width="1.7" stroke-dasharray="5.9 4.6"/>
<path d="M232.3,340.5 L224.2,339.2 L227.6,334.1 Z" fill="#3a4a66"/>
<text x="488.98" y="396.00" font-size="17.31" fill="#2f7bc5" font-style="italic" textLength="10.14" lengthAdjust="spacingAndGlyphs">R</text>
<text x="499.43" y="401.88" font-size="12.42" fill="#2f7bc5" textLength="21.53" lengthAdjust="spacingAndGlyphs">eco</text>
<text x="488.98" y="424.60" font-size="17.45" fill="#c4362f" font-style="italic" textLength="10.14" lengthAdjust="spacingAndGlyphs">R</text>
<text x="499.07" y="429.48" font-size="11.69" fill="#c4362f" textLength="6.91" lengthAdjust="spacingAndGlyphs">a</text>
<text x="488.98" y="450.00" font-size="17.16" fill="#e98a2c" font-style="italic" textLength="10.14" lengthAdjust="spacingAndGlyphs">R</text>
<text x="499.06" y="455.40" font-size="12.14" fill="#e98a2c" textLength="7.50" lengthAdjust="spacingAndGlyphs">h</text>
<text x="488.59" y="511.00" font-size="17.89" fill="#5aac46" textLength="32.77" lengthAdjust="spacingAndGlyphs">NEE</text>
<text x="489.11" y="582.20" font-size="17.63" fill="#1a1a1a" textLength="42.80" lengthAdjust="spacingAndGlyphs">−GPP</text>
<text x="515.25" y="231.00" font-size="16.55" fill="#1a1a1a" textLength="172.41" lengthAdjust="spacingAndGlyphs">Pulse characteristics</text>
<text x="582.62" y="256.80" font-size="16.14" fill="#1a1a1a" textLength="58.60" lengthAdjust="spacingAndGlyphs">Length</text>
<text x="583.77" y="286.00" font-size="16.97" fill="#1a1a1a" textLength="69.56" lengthAdjust="spacingAndGlyphs">Intensity</text>
<text x="583.02" y="314.80" font-size="17.38" fill="#1a1a1a">Size</text>
<text x="582.70" y="344.70" font-size="17.31" fill="#1a1a1a" textLength="87.78" lengthAdjust="spacingAndGlyphs">Decay rate</text>
<rect x="628.6" y="300.5" width="41.7" height="16.2" fill="#dcdcdc" stroke="#5aac46" stroke-width="2.8"/>
<text x="553.23" y="256.30" font-size="17.00" fill="#1a1a1a" textLength="18.89" lengthAdjust="spacingAndGlyphs">(1)</text>
<text x="553.10" y="285.20" font-size="17.00" fill="#1a1a1a" textLength="21.55" lengthAdjust="spacingAndGlyphs">(2)</text>
<text x="553.04" y="313.60" font-size="17.00" fill="#1a1a1a" textLength="22.67" lengthAdjust="spacingAndGlyphs">(3)</text>
<text x="553.04" y="343.20" font-size="17.00" fill="#1a1a1a" textLength="22.67" lengthAdjust="spacingAndGlyphs">(4)</text>
</svg>
</body></html>
